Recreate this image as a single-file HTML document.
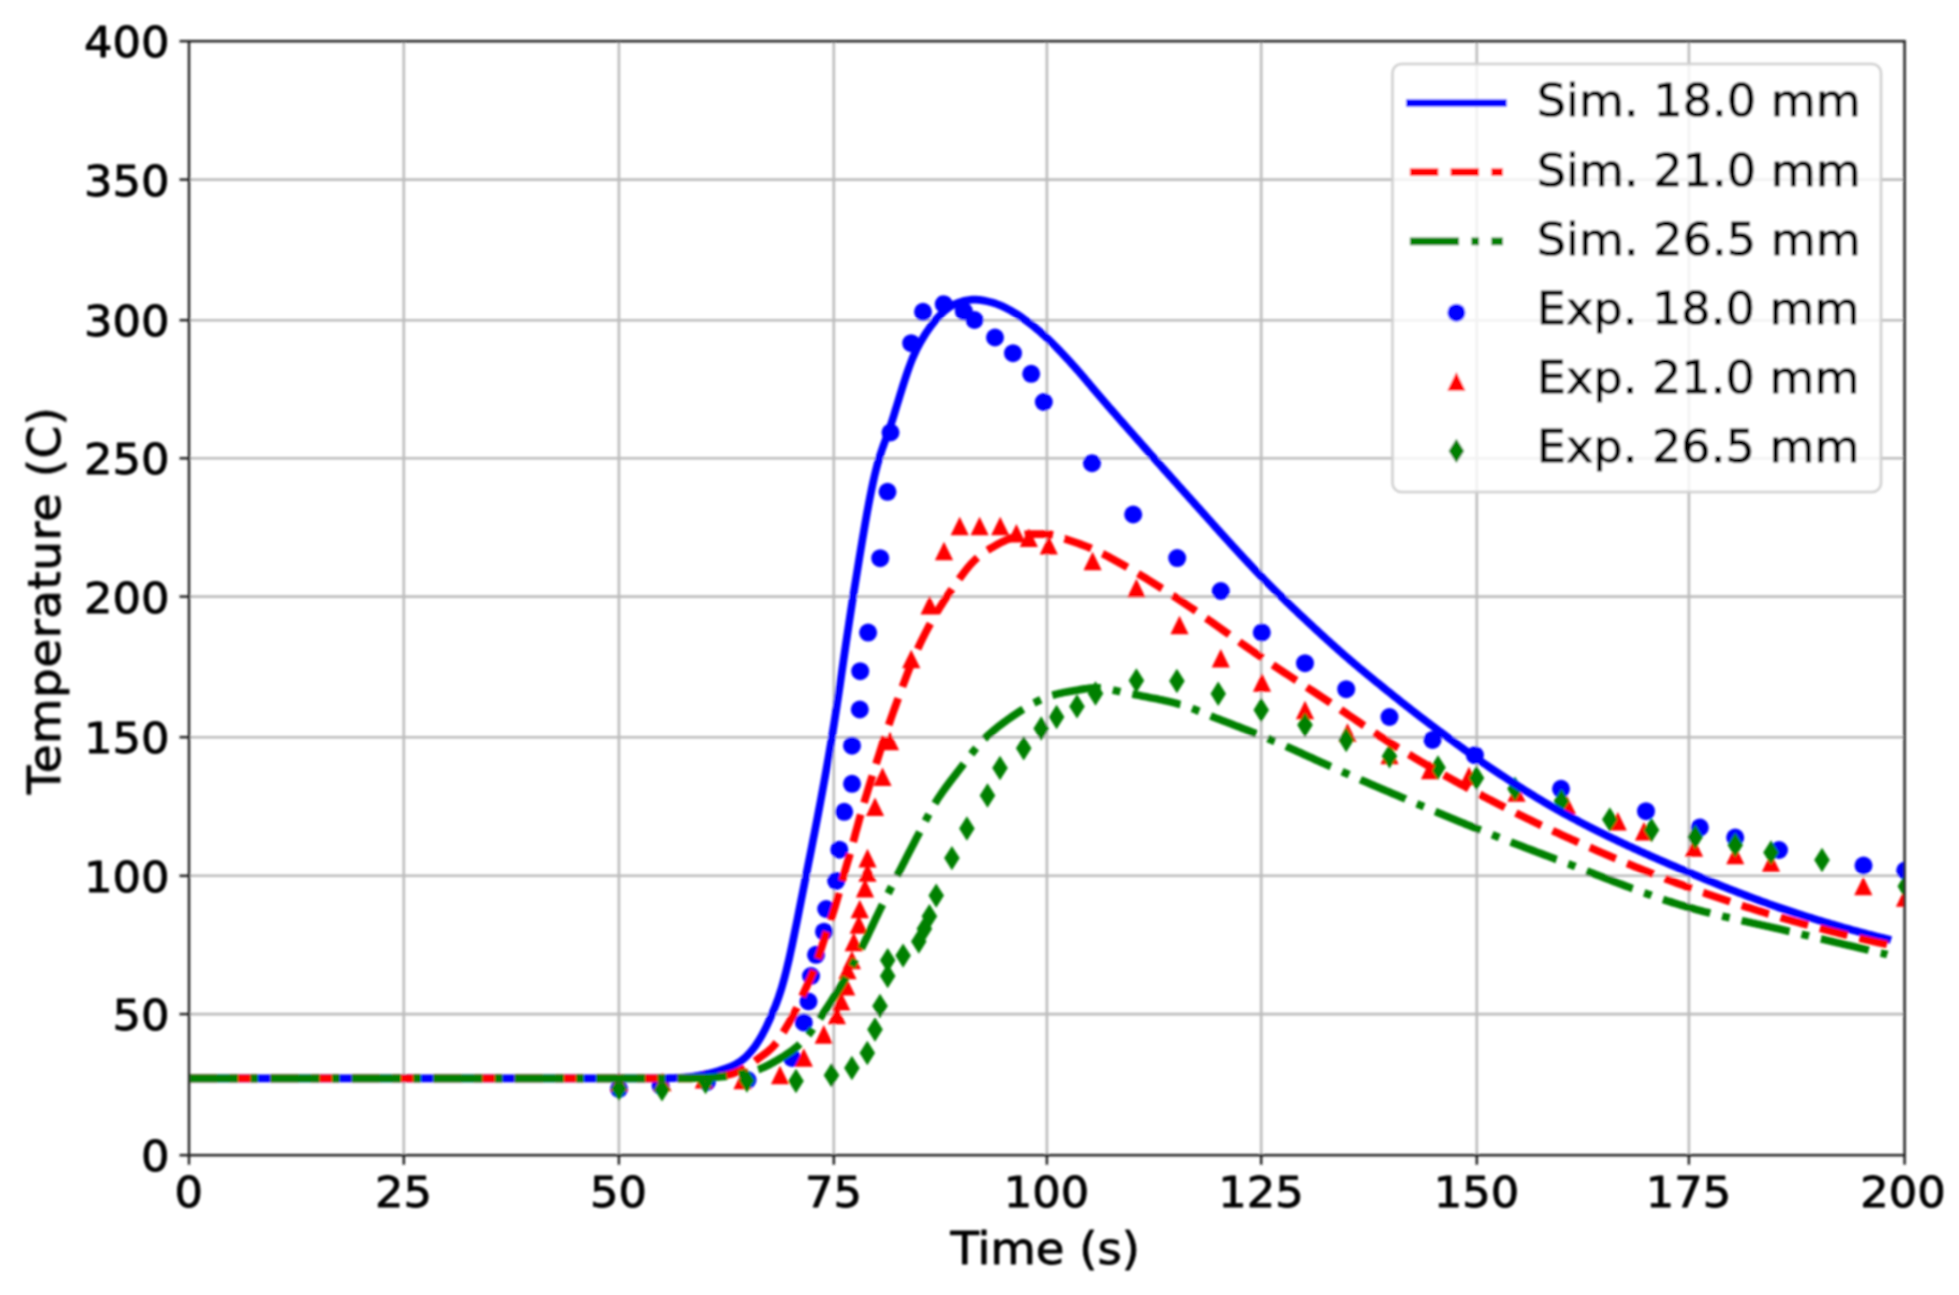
<!DOCTYPE html>
<html><head><meta charset="utf-8"><title>Temperature vs Time</title>
<style>
html,body{margin:0;padding:0;background:#fff;}
body{width:1959px;height:1295px;overflow:hidden;}
svg{display:block;}
text{font-family:"DejaVu Sans","Liberation Sans",sans-serif;fill:#000;stroke:#000;stroke-width:0.9px;stroke-linejoin:round;}
.tk{font-size:44.8px;}
.lb{font-size:46.6px;}
.yl{font-size:46.6px;letter-spacing:0.6px;}
.lg{font-size:46.2px;}
</style></head><body>
<svg width="1959" height="1295" viewBox="0 0 1959 1295">
<defs><clipPath id="ax"><rect x="189.0" y="41.2" width="1715.6" height="1114.0"/></clipPath>
<filter id="bl" x="-5%" y="-5%" width="110%" height="110%"><feGaussianBlur stdDeviation="1.0"/></filter></defs>
<rect width="1959" height="1295" fill="#fff"/>
<g filter="url(#bl)">
<g stroke="#bcbcbc" stroke-width="2.6" fill="none">
<line x1="403.8" y1="41.2" x2="403.8" y2="1155.2"/>
<line x1="618.9" y1="41.2" x2="618.9" y2="1155.2"/>
<line x1="833.8" y1="41.2" x2="833.8" y2="1155.2"/>
<line x1="1046.9" y1="41.2" x2="1046.9" y2="1155.2"/>
<line x1="1261.2" y1="41.2" x2="1261.2" y2="1155.2"/>
<line x1="1476.8" y1="41.2" x2="1476.8" y2="1155.2"/>
<line x1="1688.9" y1="41.2" x2="1688.9" y2="1155.2"/>
<line x1="189.0" y1="1014.1" x2="1904.6" y2="1014.1"/>
<line x1="189.0" y1="875.8" x2="1904.6" y2="875.8"/>
<line x1="189.0" y1="737.2" x2="1904.6" y2="737.2"/>
<line x1="189.0" y1="596.6" x2="1904.6" y2="596.6"/>
<line x1="189.0" y1="458.3" x2="1904.6" y2="458.3"/>
<line x1="189.0" y1="320.2" x2="1904.6" y2="320.2"/>
<line x1="189.0" y1="179.6" x2="1904.6" y2="179.6"/>
</g>
<g clip-path="url(#ax)">
<g fill="#0000ff">
<circle cx="619.0" cy="1088.8" r="9.0"/>
<circle cx="660.6" cy="1085.6" r="9.0"/>
<circle cx="706.9" cy="1082.0" r="9.0"/>
<circle cx="747.5" cy="1080.0" r="9.0"/>
<circle cx="792.0" cy="1058.0" r="9.0"/>
<circle cx="803.8" cy="1022.5" r="9.0"/>
<circle cx="808.5" cy="1001.5" r="9.0"/>
<circle cx="811.0" cy="976.0" r="9.0"/>
<circle cx="816.0" cy="954.8" r="9.0"/>
<circle cx="824.0" cy="931.7" r="9.0"/>
<circle cx="826.2" cy="909.0" r="9.0"/>
<circle cx="836.2" cy="881.0" r="9.0"/>
<circle cx="839.3" cy="849.7" r="9.0"/>
<circle cx="844.2" cy="811.8" r="9.0"/>
<circle cx="852.0" cy="783.8" r="9.0"/>
<circle cx="852.0" cy="745.7" r="9.0"/>
<circle cx="859.8" cy="709.5" r="9.0"/>
<circle cx="860.2" cy="671.2" r="9.0"/>
<circle cx="868.1" cy="632.6" r="9.0"/>
<circle cx="880.2" cy="558.2" r="9.0"/>
<circle cx="887.5" cy="491.8" r="9.0"/>
<circle cx="890.5" cy="432.5" r="9.0"/>
<circle cx="911.2" cy="343.2" r="9.0"/>
<circle cx="923.0" cy="311.8" r="9.0"/>
<circle cx="943.8" cy="304.2" r="9.0"/>
<circle cx="963.8" cy="311.2" r="9.0"/>
<circle cx="974.5" cy="320.0" r="9.0"/>
<circle cx="995.0" cy="337.5" r="9.0"/>
<circle cx="1013.0" cy="353.2" r="9.0"/>
<circle cx="1031.2" cy="373.8" r="9.0"/>
<circle cx="1043.8" cy="402.0" r="9.0"/>
<circle cx="1092.0" cy="463.2" r="9.0"/>
<circle cx="1133.2" cy="514.5" r="9.0"/>
<circle cx="1177.2" cy="558.1" r="9.0"/>
<circle cx="1220.8" cy="591.0" r="9.0"/>
<circle cx="1261.8" cy="632.5" r="9.0"/>
<circle cx="1305.0" cy="663.2" r="9.0"/>
<circle cx="1346.2" cy="689.2" r="9.0"/>
<circle cx="1389.5" cy="717.0" r="9.0"/>
<circle cx="1432.5" cy="740.0" r="9.0"/>
<circle cx="1474.9" cy="755.2" r="9.0"/>
<circle cx="1561.0" cy="788.8" r="9.0"/>
<circle cx="1646.0" cy="811.2" r="9.0"/>
<circle cx="1699.8" cy="827.5" r="9.0"/>
<circle cx="1735.2" cy="837.5" r="9.0"/>
<circle cx="1779.0" cy="850.0" r="9.0"/>
<circle cx="1863.5" cy="865.5" r="9.0"/>
<circle cx="1905.2" cy="870.5" r="9.0"/>
</g><g fill="#ff0000">
<path d="M619.0,1072.7 L628.1,1091.3 L609.9,1091.3Z"/>
<path d="M662.4,1072.7 L671.5,1091.3 L653.3,1091.3Z"/>
<path d="M703.8,1070.0 L712.9,1088.6 L694.7,1088.6Z"/>
<path d="M742.5,1070.7 L751.6,1089.3 L733.4,1089.3Z"/>
<path d="M780.0,1065.7 L789.1,1084.3 L770.9,1084.3Z"/>
<path d="M803.8,1048.2 L812.9,1066.8 L794.6,1066.8Z"/>
<path d="M823.8,1025.1 L832.9,1043.7 L814.6,1043.7Z"/>
<path d="M836.9,1005.7 L846.0,1024.3 L827.8,1024.3Z"/>
<path d="M841.2,992.0 L850.4,1010.5 L832.1,1010.5Z"/>
<path d="M846.2,977.0 L855.4,995.5 L837.1,995.5Z"/>
<path d="M847.5,960.7 L856.6,979.3 L838.4,979.3Z"/>
<path d="M851.9,950.7 L861.0,969.3 L842.8,969.3Z"/>
<path d="M853.8,932.6 L862.9,951.2 L844.6,951.2Z"/>
<path d="M858.8,915.1 L867.9,933.7 L849.6,933.7Z"/>
<path d="M859.8,899.7 L868.9,918.3 L850.6,918.3Z"/>
<path d="M865.0,878.8 L874.1,897.4 L855.9,897.4Z"/>
<path d="M867.5,863.2 L876.6,881.8 L858.4,881.8Z"/>
<path d="M867.5,848.8 L876.6,867.4 L858.4,867.4Z"/>
<path d="M875.0,797.5 L884.1,816.0 L865.9,816.0Z"/>
<path d="M882.5,767.5 L891.6,786.0 L873.4,786.0Z"/>
<path d="M890.0,731.7 L899.1,750.3 L880.9,750.3Z"/>
<path d="M911.2,649.7 L920.4,668.3 L902.1,668.3Z"/>
<path d="M929.6,595.8 L938.7,614.4 L920.5,614.4Z"/>
<path d="M944.0,541.7 L953.1,560.3 L934.9,560.3Z"/>
<path d="M959.7,516.7 L968.8,535.3 L950.6,535.3Z"/>
<path d="M979.6,516.7 L988.7,535.3 L970.5,535.3Z"/>
<path d="M1000.2,516.7 L1009.3,535.3 L991.1,535.3Z"/>
<path d="M1016.4,524.0 L1025.5,542.6 L1007.3,542.6Z"/>
<path d="M1028.8,528.4 L1037.9,547.0 L1019.7,547.0Z"/>
<path d="M1048.8,535.9 L1057.9,554.5 L1039.7,554.5Z"/>
<path d="M1092.6,551.7 L1101.7,570.3 L1083.5,570.3Z"/>
<path d="M1136.4,578.7 L1145.5,597.3 L1127.3,597.3Z"/>
<path d="M1179.5,615.7 L1188.6,634.3 L1170.4,634.3Z"/>
<path d="M1220.8,649.0 L1229.8,667.5 L1211.7,667.5Z"/>
<path d="M1262.0,673.2 L1271.1,691.8 L1252.9,691.8Z"/>
<path d="M1305.0,700.7 L1314.1,719.3 L1295.9,719.3Z"/>
<path d="M1347.5,723.2 L1356.6,741.8 L1338.4,741.8Z"/>
<path d="M1389.5,745.7 L1398.6,764.3 L1380.4,764.3Z"/>
<path d="M1430.0,760.7 L1439.1,779.3 L1420.9,779.3Z"/>
<path d="M1469.0,766.7 L1478.1,785.3 L1459.9,785.3Z"/>
<path d="M1516.5,783.2 L1525.6,801.8 L1507.4,801.8Z"/>
<path d="M1567.0,795.7 L1576.1,814.3 L1557.9,814.3Z"/>
<path d="M1617.8,812.0 L1626.8,830.5 L1608.7,830.5Z"/>
<path d="M1644.0,822.0 L1653.1,840.5 L1634.9,840.5Z"/>
<path d="M1694.0,838.2 L1703.1,856.8 L1684.9,856.8Z"/>
<path d="M1735.2,845.7 L1744.3,864.3 L1726.2,864.3Z"/>
<path d="M1771.0,853.2 L1780.1,871.8 L1761.9,871.8Z"/>
<path d="M1863.3,876.7 L1872.4,895.3 L1854.2,895.3Z"/>
<path d="M1905.0,888.2 L1914.1,906.8 L1895.9,906.8Z"/>
</g><g fill="#008000">
<path d="M619.0,1076.5 L626.8,1088.8 L619.0,1101.0 L611.2,1088.8Z"/>
<path d="M662.0,1077.2 L669.8,1089.4 L662.0,1101.6 L654.2,1089.4Z"/>
<path d="M705.6,1069.8 L713.4,1082.0 L705.6,1094.2 L697.8,1082.0Z"/>
<path d="M746.9,1068.4 L754.7,1080.6 L746.9,1092.8 L739.1,1080.6Z"/>
<path d="M796.0,1068.8 L803.8,1081.0 L796.0,1093.2 L788.2,1081.0Z"/>
<path d="M831.5,1063.1 L839.3,1075.3 L831.5,1087.5 L823.7,1075.3Z"/>
<path d="M851.9,1055.8 L859.7,1068.0 L851.9,1080.2 L844.1,1068.0Z"/>
<path d="M867.3,1040.8 L875.1,1053.0 L867.3,1065.2 L859.5,1053.0Z"/>
<path d="M875.0,1017.3 L882.8,1029.5 L875.0,1041.7 L867.2,1029.5Z"/>
<path d="M880.0,993.8 L887.8,1006.0 L880.0,1018.2 L872.2,1006.0Z"/>
<path d="M887.7,963.8 L895.5,976.0 L887.7,988.2 L879.9,976.0Z"/>
<path d="M887.7,948.0 L895.5,960.2 L887.7,972.4 L879.9,960.2Z"/>
<path d="M903.1,943.4 L910.9,955.6 L903.1,967.8 L895.3,955.6Z"/>
<path d="M918.8,929.3 L926.5,941.5 L918.8,953.7 L911.0,941.5Z"/>
<path d="M924.4,916.5 L932.2,928.8 L924.4,941.0 L916.6,928.8Z"/>
<path d="M929.4,904.0 L937.2,916.2 L929.4,928.5 L921.6,916.2Z"/>
<path d="M936.2,883.4 L944.0,895.6 L936.2,907.8 L928.5,895.6Z"/>
<path d="M951.9,845.9 L959.7,858.1 L951.9,870.3 L944.1,858.1Z"/>
<path d="M966.9,816.3 L974.7,828.5 L966.9,840.7 L959.1,828.5Z"/>
<path d="M987.5,783.3 L995.3,795.5 L987.5,807.7 L979.7,795.5Z"/>
<path d="M1000.0,755.8 L1007.8,768.0 L1000.0,780.2 L992.2,768.0Z"/>
<path d="M1023.7,736.0 L1031.5,748.2 L1023.7,760.4 L1015.9,748.2Z"/>
<path d="M1041.2,716.3 L1049.0,728.5 L1041.2,740.7 L1033.4,728.5Z"/>
<path d="M1056.6,704.8 L1064.4,717.0 L1056.6,729.2 L1048.8,717.0Z"/>
<path d="M1077.0,694.2 L1084.8,706.4 L1077.0,718.6 L1069.2,706.4Z"/>
<path d="M1095.5,681.3 L1103.3,693.5 L1095.5,705.7 L1087.7,693.5Z"/>
<path d="M1136.4,668.3 L1144.2,680.5 L1136.4,692.7 L1128.6,680.5Z"/>
<path d="M1176.9,668.8 L1184.7,681.0 L1176.9,693.2 L1169.1,681.0Z"/>
<path d="M1218.2,681.5 L1226.0,693.8 L1218.2,706.0 L1210.5,693.8Z"/>
<path d="M1261.2,697.8 L1269.0,710.0 L1261.2,722.2 L1253.5,710.0Z"/>
<path d="M1305.0,712.8 L1312.8,725.0 L1305.0,737.2 L1297.2,725.0Z"/>
<path d="M1346.2,727.8 L1354.0,740.0 L1346.2,752.2 L1338.5,740.0Z"/>
<path d="M1389.5,744.0 L1397.3,756.2 L1389.5,768.5 L1381.7,756.2Z"/>
<path d="M1438.0,755.3 L1445.8,767.5 L1438.0,779.7 L1430.2,767.5Z"/>
<path d="M1476.5,765.8 L1484.3,778.0 L1476.5,790.2 L1468.7,778.0Z"/>
<path d="M1515.0,776.5 L1522.8,788.8 L1515.0,801.0 L1507.2,788.8Z"/>
<path d="M1561.4,789.0 L1569.2,801.2 L1561.4,813.5 L1553.6,801.2Z"/>
<path d="M1609.8,807.3 L1617.5,819.5 L1609.8,831.7 L1602.0,819.5Z"/>
<path d="M1651.5,817.8 L1659.3,830.0 L1651.5,842.2 L1643.7,830.0Z"/>
<path d="M1695.2,824.8 L1703.0,837.0 L1695.2,849.2 L1687.5,837.0Z"/>
<path d="M1735.2,832.8 L1743.0,845.0 L1735.2,857.2 L1727.5,845.0Z"/>
<path d="M1771.0,840.3 L1778.8,852.5 L1771.0,864.7 L1763.2,852.5Z"/>
<path d="M1822.0,847.8 L1829.8,860.0 L1822.0,872.2 L1814.2,860.0Z"/>
<path d="M1905.2,874.0 L1913.0,886.2 L1905.2,898.5 L1897.5,886.2Z"/>
</g>
<g fill="none" stroke-width="7.68" stroke-linejoin="round">
<path d="M189.0,1078.4 L190.5,1078.4 L192.0,1078.4 L193.5,1078.4 L195.0,1078.4 L196.5,1078.4 L198.0,1078.4 L199.5,1078.4 L201.0,1078.4 L202.5,1078.4 L204.0,1078.4 L205.5,1078.4 L207.0,1078.4 L208.5,1078.4 L210.0,1078.4 L211.5,1078.4 L213.0,1078.4 L214.5,1078.4 L216.0,1078.4 L217.5,1078.4 L219.0,1078.4 L220.5,1078.4 L222.0,1078.4 L223.5,1078.4 L225.0,1078.4 L226.5,1078.4 L228.0,1078.4 L229.5,1078.4 L231.0,1078.4 L232.5,1078.4 L234.0,1078.4 L235.5,1078.4 L237.0,1078.4 L238.5,1078.4 L240.0,1078.4 L241.5,1078.4 L243.0,1078.4 L244.5,1078.4 L246.0,1078.4 L247.5,1078.4 L249.0,1078.4 L250.5,1078.4 L252.0,1078.4 L253.5,1078.4 L255.0,1078.4 L256.5,1078.4 L258.0,1078.4 L259.5,1078.4 L261.0,1078.4 L262.5,1078.4 L264.0,1078.4 L265.5,1078.4 L267.0,1078.4 L268.5,1078.4 L270.0,1078.4 L271.5,1078.4 L273.0,1078.4 L274.5,1078.4 L276.0,1078.4 L277.5,1078.4 L279.0,1078.4 L280.5,1078.4 L282.0,1078.4 L283.5,1078.4 L285.0,1078.4 L286.5,1078.4 L288.0,1078.4 L289.5,1078.4 L291.0,1078.4 L292.5,1078.4 L294.0,1078.4 L295.5,1078.4 L297.0,1078.4 L298.5,1078.4 L300.0,1078.4 L301.5,1078.4 L303.0,1078.4 L304.5,1078.4 L306.0,1078.4 L307.5,1078.4 L309.0,1078.4 L310.5,1078.4 L312.0,1078.4 L313.5,1078.4 L315.0,1078.4 L316.5,1078.4 L318.0,1078.4 L319.5,1078.4 L321.0,1078.4 L322.5,1078.4 L324.0,1078.4 L325.5,1078.4 L327.0,1078.4 L328.5,1078.4 L330.0,1078.4 L331.5,1078.4 L333.0,1078.4 L334.5,1078.4 L336.0,1078.4 L337.5,1078.4 L339.0,1078.4 L340.5,1078.4 L342.0,1078.4 L343.5,1078.4 L345.0,1078.4 L346.5,1078.4 L348.0,1078.4 L349.5,1078.4 L351.0,1078.4 L352.5,1078.4 L354.0,1078.4 L355.5,1078.4 L357.0,1078.4 L358.5,1078.4 L360.0,1078.4 L361.5,1078.4 L363.0,1078.4 L364.5,1078.4 L366.0,1078.4 L367.5,1078.4 L369.0,1078.4 L370.5,1078.4 L372.0,1078.4 L373.5,1078.4 L375.0,1078.4 L376.5,1078.4 L378.0,1078.4 L379.5,1078.4 L381.0,1078.4 L382.5,1078.4 L384.0,1078.4 L385.5,1078.4 L387.0,1078.4 L388.5,1078.4 L390.0,1078.4 L391.5,1078.4 L393.0,1078.4 L394.5,1078.4 L396.0,1078.4 L397.5,1078.4 L399.0,1078.4 L400.5,1078.4 L402.0,1078.4 L403.5,1078.4 L405.0,1078.4 L406.5,1078.4 L408.0,1078.4 L409.5,1078.4 L411.0,1078.4 L412.5,1078.4 L414.0,1078.4 L415.5,1078.4 L417.0,1078.4 L418.5,1078.4 L420.0,1078.4 L421.5,1078.4 L423.0,1078.4 L424.5,1078.4 L426.0,1078.4 L427.5,1078.4 L429.0,1078.4 L430.5,1078.4 L432.0,1078.4 L433.5,1078.4 L435.0,1078.4 L436.5,1078.4 L438.0,1078.4 L439.5,1078.4 L441.0,1078.4 L442.5,1078.4 L444.0,1078.4 L445.5,1078.4 L447.0,1078.4 L448.5,1078.4 L450.0,1078.4 L451.5,1078.4 L453.0,1078.4 L454.5,1078.4 L456.0,1078.4 L457.5,1078.4 L459.0,1078.4 L460.5,1078.4 L462.0,1078.4 L463.5,1078.4 L465.0,1078.4 L466.5,1078.4 L468.0,1078.4 L469.5,1078.4 L471.0,1078.4 L472.5,1078.4 L474.0,1078.4 L475.5,1078.4 L477.0,1078.4 L478.5,1078.4 L480.0,1078.4 L481.5,1078.4 L483.0,1078.4 L484.5,1078.4 L486.0,1078.4 L487.5,1078.4 L489.0,1078.4 L490.5,1078.4 L492.0,1078.4 L493.5,1078.4 L495.0,1078.4 L496.5,1078.4 L498.0,1078.4 L499.5,1078.4 L501.0,1078.4 L502.5,1078.4 L504.0,1078.4 L505.5,1078.4 L507.0,1078.4 L508.5,1078.4 L510.0,1078.4 L511.5,1078.4 L513.0,1078.4 L514.5,1078.4 L516.0,1078.4 L517.5,1078.4 L519.0,1078.4 L520.5,1078.4 L522.0,1078.4 L523.5,1078.4 L525.0,1078.4 L526.5,1078.4 L528.0,1078.4 L529.5,1078.4 L531.0,1078.4 L532.5,1078.4 L534.0,1078.4 L535.5,1078.4 L537.0,1078.4 L538.5,1078.4 L540.0,1078.4 L541.5,1078.4 L543.0,1078.4 L544.5,1078.4 L546.0,1078.4 L547.5,1078.4 L549.0,1078.4 L550.5,1078.4 L552.0,1078.4 L553.5,1078.4 L555.0,1078.4 L556.5,1078.4 L558.0,1078.4 L559.5,1078.4 L561.0,1078.4 L562.5,1078.4 L564.0,1078.4 L565.5,1078.4 L567.0,1078.4 L568.5,1078.4 L570.0,1078.4 L571.5,1078.4 L573.0,1078.4 L574.5,1078.4 L576.0,1078.4 L577.5,1078.4 L579.0,1078.4 L580.5,1078.4 L582.0,1078.4 L583.5,1078.4 L585.0,1078.4 L586.5,1078.4 L588.0,1078.4 L589.5,1078.4 L591.0,1078.4 L592.5,1078.4 L594.0,1078.4 L595.5,1078.4 L597.0,1078.4 L598.5,1078.4 L600.0,1078.4 L601.5,1078.4 L603.0,1078.4 L604.5,1078.4 L606.0,1078.4 L607.5,1078.4 L609.0,1078.4 L610.5,1078.4 L612.0,1078.4 L613.5,1078.4 L615.0,1078.4 L616.5,1078.4 L618.0,1078.4 L619.5,1078.4 L621.0,1078.4 L622.5,1078.4 L624.0,1078.4 L625.5,1078.4 L627.0,1078.4 L628.5,1078.4 L630.0,1078.4 L631.5,1078.4 L633.0,1078.4 L634.5,1078.4 L636.0,1078.4 L637.5,1078.4 L639.0,1078.4 L640.5,1078.4 L642.0,1078.4 L643.5,1078.4 L645.0,1078.4 L646.5,1078.4 L648.0,1078.4 L649.5,1078.4 L651.0,1078.4 L652.5,1078.4 L654.0,1078.4 L655.5,1078.4 L657.0,1078.4 L658.5,1078.4 L660.0,1078.4 L661.5,1078.4 L663.0,1078.4 L664.5,1078.3 L666.0,1078.3 L667.5,1078.3 L669.0,1078.2 L670.5,1078.2 L672.0,1078.1 L673.5,1078.1 L675.0,1078.0 L676.5,1077.9 L678.0,1077.9 L679.5,1077.8 L680.0,1077.8 L681.0,1077.7 L682.5,1077.6 L684.0,1077.5 L685.5,1077.3 L687.0,1077.2 L688.5,1077.0 L690.0,1076.9 L691.5,1076.7 L693.0,1076.5 L694.5,1076.3 L696.0,1076.0 L697.5,1075.8 L699.0,1075.6 L700.5,1075.3 L702.0,1075.0 L702.5,1074.9 L703.5,1074.7 L705.0,1074.4 L706.5,1074.1 L708.0,1073.8 L709.5,1073.4 L711.0,1073.0 L712.5,1072.6 L714.0,1072.2 L715.0,1072.0 L715.5,1071.8 L717.0,1071.4 L718.5,1071.0 L720.0,1070.5 L721.5,1070.0 L723.0,1069.5 L724.5,1069.0 L726.0,1068.5 L727.5,1067.9 L729.0,1067.3 L730.5,1066.7 L732.0,1066.1 L733.5,1065.4 L735.0,1064.6 L736.5,1063.8 L738.0,1062.9 L739.5,1062.0 L740.0,1061.7 L741.0,1061.0 L742.5,1059.8 L744.0,1058.6 L745.5,1057.2 L747.0,1055.8 L748.5,1054.2 L750.0,1052.6 L751.5,1050.8 L752.5,1049.6 L753.0,1049.0 L754.5,1047.0 L756.0,1044.9 L757.5,1042.6 L759.0,1040.2 L760.5,1037.7 L762.0,1035.1 L763.5,1032.3 L765.0,1029.4 L766.5,1026.4 L768.0,1023.2 L769.5,1019.9 L771.0,1016.4 L771.2,1015.9 L772.5,1012.9 L774.0,1009.3 L775.5,1005.6 L777.0,1001.6 L778.5,997.5 L780.0,993.0 L780.8,990.5 L781.5,988.3 L783.0,983.2 L784.5,977.7 L786.0,971.9 L787.5,965.7 L789.0,959.3 L790.5,952.5 L792.0,945.6 L793.5,938.4 L795.0,931.1 L796.5,923.7 L798.0,916.2 L799.5,908.6 L801.0,901.0 L802.5,893.4 L804.0,885.9 L805.5,878.3 L805.8,876.8 L807.0,870.8 L808.5,863.3 L810.0,855.7 L811.5,848.2 L813.0,840.6 L814.5,832.9 L816.0,825.2 L817.5,817.4 L819.0,809.5 L820.5,801.6 L822.0,793.5 L823.5,785.4 L825.0,777.1 L826.5,768.7 L828.0,760.2 L829.5,751.5 L831.0,742.6 L832.0,736.5 L832.5,733.5 L834.0,724.1 L835.5,714.5 L837.0,704.7 L838.5,694.7 L840.0,684.6 L841.5,674.3 L843.0,664.0 L844.5,653.6 L846.0,643.4 L847.5,633.2 L849.0,623.2 L850.5,613.4 L852.0,603.7 L853.5,594.2 L855.0,584.8 L856.5,575.6 L858.0,566.4 L859.5,557.2 L861.0,548.1 L862.5,539.2 L864.0,530.3 L865.5,521.7 L867.0,513.2 L868.5,505.1 L870.0,497.2 L871.5,489.7 L873.0,482.6 L874.5,476.0 L876.0,469.8 L877.5,464.1 L878.5,460.6 L879.0,458.9 L880.5,454.1 L882.0,449.6 L883.5,445.4 L885.0,441.3 L886.5,437.3 L888.0,433.1 L888.8,430.9 L889.5,428.8 L891.0,424.3 L892.5,419.6 L894.0,414.8 L895.5,409.9 L897.0,405.0 L898.5,400.1 L900.0,395.2 L901.5,390.3 L903.0,385.5 L904.5,380.8 L906.0,376.2 L907.5,371.8 L909.0,367.5 L910.5,363.5 L912.0,359.7 L912.5,358.4 L913.5,356.1 L915.0,352.8 L916.5,349.6 L918.0,346.7 L919.5,343.9 L921.0,341.2 L922.5,338.7 L924.0,336.2 L925.5,333.9 L926.2,332.7 L927.0,331.6 L928.5,329.4 L930.0,327.3 L931.5,325.2 L933.0,323.3 L934.5,321.4 L936.0,319.6 L937.5,317.9 L939.0,316.3 L940.0,315.3 L940.5,314.8 L942.0,313.3 L943.5,311.9 L945.0,310.6 L946.5,309.4 L948.0,308.2 L949.5,307.1 L951.0,306.2 L952.5,305.3 L954.0,304.5 L955.0,304.0 L955.5,303.8 L957.0,303.2 L958.5,302.6 L960.0,302.1 L961.5,301.7 L963.0,301.2 L964.5,300.8 L966.0,300.5 L967.5,300.2 L969.0,300.0 L970.5,299.8 L972.0,299.7 L973.5,299.6 L973.8,299.6 L975.0,299.6 L976.5,299.7 L978.0,299.8 L979.5,299.9 L981.0,300.1 L982.5,300.4 L984.0,300.6 L985.5,300.9 L987.0,301.3 L988.5,301.6 L990.0,302.0 L991.5,302.3 L992.5,302.6 L993.0,302.8 L994.5,303.2 L996.0,303.7 L997.5,304.3 L999.0,304.8 L1000.5,305.5 L1002.0,306.1 L1003.5,306.8 L1005.0,307.6 L1006.5,308.3 L1008.0,309.1 L1009.5,309.9 L1011.0,310.7 L1011.2,310.9 L1012.5,311.6 L1014.0,312.5 L1015.5,313.4 L1017.0,314.3 L1018.5,315.3 L1020.0,316.3 L1021.5,317.3 L1023.0,318.4 L1024.5,319.5 L1026.0,320.6 L1027.5,321.7 L1029.0,322.8 L1030.0,323.6 L1030.5,324.0 L1032.0,325.1 L1033.5,326.3 L1035.0,327.5 L1036.5,328.8 L1038.0,330.1 L1039.5,331.3 L1041.0,332.7 L1042.5,334.0 L1044.0,335.3 L1045.5,336.7 L1047.0,338.1 L1047.5,338.6 L1048.5,339.5 L1050.0,341.0 L1051.5,342.4 L1053.0,343.9 L1054.5,345.4 L1056.0,346.9 L1057.5,348.5 L1059.0,350.0 L1060.5,351.6 L1062.0,353.2 L1063.3,354.5 L1063.5,354.8 L1065.0,356.4 L1066.5,358.0 L1068.0,359.6 L1069.5,361.2 L1071.0,362.9 L1072.5,364.6 L1074.0,366.2 L1075.5,367.9 L1077.0,369.6 L1078.5,371.3 L1080.0,373.0 L1081.5,374.8 L1083.0,376.5 L1084.5,378.3 L1086.0,380.1 L1087.5,381.9 L1089.0,383.6 L1090.5,385.4 L1092.0,387.2 L1093.5,389.0 L1095.0,390.8 L1096.5,392.5 L1096.7,392.8 L1098.0,394.3 L1099.5,396.0 L1101.0,397.8 L1102.5,399.5 L1104.0,401.3 L1105.5,403.0 L1107.0,404.7 L1108.5,406.5 L1110.0,408.2 L1111.5,409.9 L1113.0,411.6 L1114.5,413.3 L1116.0,415.0 L1117.5,416.8 L1119.0,418.5 L1120.5,420.2 L1122.0,421.9 L1123.5,423.6 L1125.0,425.3 L1126.5,427.0 L1128.0,428.7 L1129.5,430.4 L1130.0,431.0 L1131.0,432.1 L1132.5,433.8 L1134.0,435.5 L1135.5,437.2 L1137.0,438.9 L1138.5,440.6 L1140.0,442.3 L1141.5,444.0 L1143.0,445.7 L1144.5,447.4 L1146.0,449.1 L1147.5,450.8 L1149.0,452.5 L1150.5,454.2 L1152.0,455.9 L1153.5,457.6 L1155.0,459.3 L1156.5,461.0 L1158.0,462.6 L1159.5,464.3 L1161.0,466.0 L1162.5,467.7 L1163.3,468.6 L1164.0,469.4 L1165.5,471.1 L1167.0,472.7 L1168.5,474.4 L1170.0,476.1 L1171.5,477.8 L1173.0,479.5 L1174.5,481.1 L1176.0,482.8 L1177.5,484.5 L1179.0,486.2 L1180.5,487.9 L1182.0,489.5 L1183.5,491.2 L1185.0,492.9 L1186.5,494.5 L1188.0,496.2 L1189.5,497.9 L1191.0,499.6 L1192.5,501.2 L1194.0,502.9 L1195.5,504.6 L1197.0,506.3 L1198.5,507.9 L1200.0,509.6 L1201.5,511.3 L1203.0,513.0 L1204.5,514.6 L1206.0,516.3 L1207.5,518.0 L1209.0,519.7 L1210.5,521.3 L1212.0,523.0 L1213.5,524.7 L1215.0,526.4 L1216.5,528.1 L1218.0,529.7 L1219.5,531.4 L1221.0,533.1 L1222.5,534.7 L1224.0,536.4 L1225.5,538.0 L1227.0,539.7 L1228.5,541.3 L1230.0,543.0 L1231.5,544.6 L1233.0,546.3 L1234.5,547.9 L1236.0,549.5 L1237.5,551.2 L1239.0,552.8 L1240.5,554.4 L1242.0,556.1 L1243.5,557.7 L1245.0,559.3 L1246.5,560.9 L1248.0,562.5 L1249.5,564.1 L1251.0,565.7 L1252.5,567.3 L1254.0,568.9 L1255.5,570.5 L1257.0,572.1 L1258.5,573.7 L1260.0,575.2 L1261.5,576.8 L1261.7,577.0 L1263.0,578.3 L1264.5,579.9 L1266.0,581.4 L1267.5,582.9 L1269.0,584.4 L1270.5,585.9 L1272.0,587.4 L1273.5,588.9 L1275.0,590.4 L1276.5,591.9 L1278.0,593.4 L1279.5,594.9 L1281.0,596.3 L1282.5,597.8 L1283.3,598.6 L1284.0,599.3 L1285.5,600.7 L1287.0,602.2 L1288.5,603.6 L1290.0,605.1 L1291.5,606.5 L1293.0,608.0 L1294.5,609.4 L1296.0,610.8 L1297.5,612.2 L1299.0,613.7 L1300.5,615.1 L1302.0,616.5 L1303.5,617.9 L1305.0,619.3 L1306.5,620.7 L1308.0,622.1 L1309.5,623.5 L1311.0,624.9 L1312.5,626.3 L1314.0,627.7 L1315.5,629.1 L1316.7,630.2 L1317.0,630.5 L1318.5,631.8 L1320.0,633.2 L1321.5,634.6 L1323.0,636.0 L1324.5,637.3 L1326.0,638.7 L1327.5,640.1 L1329.0,641.4 L1330.5,642.8 L1332.0,644.1 L1333.5,645.5 L1335.0,646.8 L1336.5,648.2 L1338.0,649.5 L1339.5,650.8 L1341.0,652.1 L1342.5,653.5 L1344.0,654.8 L1345.5,656.1 L1347.0,657.4 L1348.5,658.7 L1350.0,660.0 L1351.5,661.3 L1353.0,662.5 L1354.5,663.8 L1356.0,665.1 L1357.5,666.3 L1359.0,667.6 L1360.5,668.9 L1362.0,670.1 L1363.5,671.3 L1365.0,672.6 L1366.5,673.8 L1368.0,675.1 L1369.5,676.3 L1371.0,677.5 L1372.5,678.7 L1374.0,680.0 L1375.5,681.2 L1377.0,682.4 L1378.5,683.6 L1380.0,684.8 L1381.5,686.0 L1383.0,687.3 L1383.3,687.5 L1384.5,688.5 L1386.0,689.7 L1387.5,690.9 L1389.0,692.1 L1390.5,693.3 L1392.0,694.5 L1393.5,695.7 L1395.0,696.9 L1396.5,698.1 L1398.0,699.3 L1399.5,700.5 L1401.0,701.7 L1402.5,702.9 L1404.0,704.1 L1405.5,705.3 L1407.0,706.4 L1408.5,707.6 L1410.0,708.8 L1411.5,710.0 L1413.0,711.1 L1414.5,712.3 L1416.0,713.4 L1416.7,714.0 L1417.5,714.6 L1419.0,715.8 L1420.5,716.9 L1422.0,718.1 L1423.5,719.2 L1425.0,720.3 L1426.5,721.5 L1428.0,722.6 L1429.5,723.7 L1431.0,724.9 L1432.5,726.0 L1434.0,727.1 L1435.5,728.3 L1437.0,729.4 L1438.5,730.5 L1440.0,731.6 L1441.5,732.7 L1443.0,733.8 L1444.5,734.9 L1446.0,736.0 L1447.5,737.2 L1449.0,738.3 L1450.0,739.0 L1450.5,739.4 L1452.0,740.5 L1453.5,741.6 L1455.0,742.7 L1456.5,743.8 L1458.0,744.9 L1459.5,746.0 L1461.0,747.1 L1462.5,748.2 L1464.0,749.3 L1465.5,750.4 L1467.0,751.5 L1468.5,752.6 L1470.0,753.7 L1471.5,754.7 L1473.0,755.8 L1474.5,756.9 L1476.0,757.9 L1477.5,759.0 L1479.0,760.0 L1480.5,761.1 L1482.0,762.1 L1483.3,763.0 L1483.5,763.1 L1485.0,764.1 L1486.5,765.1 L1488.0,766.2 L1489.5,767.2 L1491.0,768.2 L1492.5,769.2 L1494.0,770.2 L1495.5,771.2 L1497.0,772.2 L1498.5,773.2 L1500.0,774.2 L1501.5,775.2 L1503.0,776.1 L1504.5,777.1 L1506.0,778.1 L1507.5,779.1 L1509.0,780.1 L1510.5,781.1 L1512.0,782.0 L1513.5,783.0 L1515.0,784.0 L1516.5,784.9 L1518.0,785.9 L1519.5,786.9 L1521.0,787.8 L1522.5,788.8 L1524.0,789.7 L1525.5,790.7 L1527.0,791.6 L1528.5,792.5 L1530.0,793.5 L1531.5,794.4 L1533.0,795.3 L1534.5,796.3 L1536.0,797.2 L1537.5,798.1 L1539.0,799.0 L1540.5,799.9 L1542.0,800.8 L1543.5,801.7 L1545.0,802.6 L1546.5,803.5 L1548.0,804.4 L1549.5,805.3 L1551.0,806.1 L1552.5,807.0 L1554.0,807.9 L1555.5,808.7 L1557.0,809.6 L1558.5,810.4 L1560.0,811.3 L1561.5,812.1 L1563.0,813.0 L1564.5,813.8 L1566.0,814.6 L1567.5,815.4 L1569.0,816.2 L1570.5,817.0 L1572.0,817.8 L1573.5,818.6 L1575.0,819.4 L1576.5,820.2 L1578.0,821.0 L1579.5,821.8 L1581.0,822.6 L1582.5,823.4 L1584.0,824.2 L1585.5,824.9 L1587.0,825.7 L1588.5,826.5 L1590.0,827.2 L1591.5,828.0 L1593.0,828.8 L1594.5,829.5 L1596.0,830.3 L1597.5,831.0 L1599.0,831.8 L1600.5,832.5 L1602.0,833.2 L1603.5,834.0 L1605.0,834.7 L1606.5,835.5 L1608.0,836.2 L1609.5,836.9 L1611.0,837.6 L1612.5,838.4 L1614.0,839.1 L1615.5,839.8 L1617.0,840.5 L1618.5,841.2 L1620.0,841.9 L1621.5,842.6 L1623.0,843.4 L1624.5,844.1 L1626.0,844.8 L1627.5,845.5 L1629.0,846.2 L1630.5,846.8 L1632.0,847.5 L1633.5,848.2 L1635.0,848.9 L1636.5,849.6 L1638.0,850.3 L1639.5,851.0 L1641.0,851.7 L1642.5,852.3 L1644.0,853.0 L1645.5,853.7 L1647.0,854.3 L1648.5,855.0 L1650.0,855.7 L1651.5,856.4 L1653.0,857.0 L1654.5,857.7 L1656.0,858.3 L1657.5,859.0 L1659.0,859.7 L1660.5,860.3 L1662.0,861.0 L1663.5,861.6 L1665.0,862.3 L1666.5,862.9 L1668.0,863.6 L1669.5,864.2 L1671.0,864.9 L1672.5,865.5 L1674.0,866.1 L1675.5,866.8 L1677.0,867.4 L1678.5,868.1 L1680.0,868.7 L1681.5,869.3 L1683.0,870.0 L1684.5,870.6 L1686.0,871.2 L1687.5,871.9 L1689.0,872.5 L1690.5,873.1 L1692.0,873.8 L1693.5,874.4 L1695.0,875.0 L1696.5,875.6 L1698.0,876.3 L1699.5,876.9 L1701.0,877.5 L1702.5,878.1 L1704.0,878.7 L1705.5,879.4 L1707.0,880.0 L1708.5,880.6 L1710.0,881.2 L1711.5,881.8 L1713.0,882.4 L1714.5,883.0 L1716.0,883.6 L1717.5,884.3 L1719.0,884.9 L1720.5,885.5 L1722.0,886.1 L1723.5,886.7 L1725.0,887.3 L1726.5,887.9 L1728.0,888.5 L1729.5,889.1 L1731.0,889.6 L1732.5,890.2 L1734.0,890.8 L1735.5,891.4 L1737.0,892.0 L1738.5,892.6 L1740.0,893.2 L1741.5,893.7 L1743.0,894.3 L1744.5,894.9 L1746.0,895.5 L1747.5,896.0 L1749.0,896.6 L1750.5,897.2 L1752.0,897.7 L1753.5,898.3 L1755.0,898.9 L1756.5,899.4 L1758.0,900.0 L1759.5,900.5 L1761.0,901.1 L1762.5,901.6 L1764.0,902.2 L1765.5,902.7 L1767.0,903.2 L1768.5,903.8 L1770.0,904.3 L1771.5,904.8 L1773.0,905.4 L1774.5,905.9 L1776.0,906.4 L1777.5,907.0 L1779.0,907.5 L1780.5,908.0 L1782.0,908.5 L1783.5,909.0 L1785.0,909.5 L1786.5,910.0 L1788.0,910.5 L1789.5,911.0 L1791.0,911.5 L1792.5,912.0 L1794.0,912.5 L1795.5,913.0 L1797.0,913.5 L1798.5,913.9 L1800.0,914.4 L1801.5,914.9 L1803.0,915.4 L1804.5,915.9 L1806.0,916.3 L1807.5,916.8 L1809.0,917.3 L1810.5,917.7 L1812.0,918.2 L1813.5,918.7 L1815.0,919.1 L1816.5,919.6 L1818.0,920.1 L1819.5,920.5 L1821.0,921.0 L1822.5,921.4 L1824.0,921.9 L1825.5,922.3 L1827.0,922.8 L1828.5,923.2 L1830.0,923.7 L1831.5,924.1 L1833.0,924.5 L1834.5,925.0 L1836.0,925.4 L1837.5,925.8 L1839.0,926.3 L1840.5,926.7 L1842.0,927.1 L1843.5,927.6 L1845.0,928.0 L1846.5,928.4 L1848.0,928.8 L1849.5,929.2 L1851.0,929.6 L1852.5,930.1 L1854.0,930.5 L1855.5,930.9 L1857.0,931.3 L1858.5,931.7 L1860.0,932.1 L1861.5,932.5 L1863.0,932.9 L1864.5,933.3 L1866.0,933.7 L1867.5,934.1 L1869.0,934.5 L1870.5,934.8 L1872.0,935.2 L1873.5,935.6 L1875.0,936.0 L1876.5,936.4 L1878.0,936.7 L1879.5,937.1 L1881.0,937.5 L1882.5,937.8 L1884.0,938.2 L1885.5,938.6 L1887.0,938.9 L1887.3,939.0" stroke="#0000ff" stroke-linecap="square"/>
<path d="M188.8,1078.4 L190.3,1078.4 L191.8,1078.4 L193.3,1078.4 L194.8,1078.4 L196.3,1078.4 L197.8,1078.4 L199.3,1078.4 L200.8,1078.4 L202.3,1078.4 L203.8,1078.4 L205.3,1078.4 L206.8,1078.4 L208.3,1078.4 L209.8,1078.4 L211.3,1078.4 L212.8,1078.4 L214.3,1078.4 L215.8,1078.4 L217.3,1078.4 L218.8,1078.4 L220.3,1078.4 L221.8,1078.4 L223.3,1078.4 L224.8,1078.4 L226.3,1078.4 L227.8,1078.4 L229.3,1078.4 L230.8,1078.4 L232.3,1078.4 L233.8,1078.4 L235.3,1078.4 L236.8,1078.4 L238.3,1078.4 L239.8,1078.4 L241.3,1078.4 L242.8,1078.4 L244.3,1078.4 L245.8,1078.4 L247.3,1078.4 L248.8,1078.4 L250.3,1078.4 L251.8,1078.4 L253.3,1078.4 L254.8,1078.4 L256.3,1078.4 L257.8,1078.4 L259.3,1078.4 L260.8,1078.4 L262.3,1078.4 L263.8,1078.4 L265.3,1078.4 L266.8,1078.4 L268.3,1078.4 L269.8,1078.4 L271.3,1078.4 L272.8,1078.4 L274.3,1078.4 L275.8,1078.4 L277.3,1078.4 L278.8,1078.4 L280.3,1078.4 L281.8,1078.4 L283.3,1078.4 L284.8,1078.4 L286.3,1078.4 L287.8,1078.4 L289.3,1078.4 L290.8,1078.4 L292.3,1078.4 L293.8,1078.4 L295.3,1078.4 L296.8,1078.4 L298.3,1078.4 L299.8,1078.4 L301.3,1078.4 L302.8,1078.4 L304.3,1078.4 L305.8,1078.4 L307.3,1078.4 L308.8,1078.4 L310.3,1078.4 L311.8,1078.4 L313.3,1078.4 L314.8,1078.4 L316.3,1078.4 L317.8,1078.4 L319.3,1078.4 L320.8,1078.4 L322.3,1078.4 L323.8,1078.4 L325.3,1078.4 L326.8,1078.4 L328.3,1078.4 L329.8,1078.4 L331.3,1078.4 L332.8,1078.4 L334.3,1078.4 L335.8,1078.4 L337.3,1078.4 L338.8,1078.4 L340.3,1078.4 L341.8,1078.4 L343.3,1078.4 L344.8,1078.4 L346.3,1078.4 L347.8,1078.4 L349.3,1078.4 L350.8,1078.4 L352.3,1078.4 L353.8,1078.4 L355.3,1078.4 L356.8,1078.4 L358.3,1078.4 L359.8,1078.4 L361.3,1078.4 L362.8,1078.4 L364.3,1078.4 L365.8,1078.4 L367.3,1078.4 L368.8,1078.4 L370.3,1078.4 L371.8,1078.4 L373.3,1078.4 L374.8,1078.4 L376.3,1078.4 L377.8,1078.4 L379.3,1078.4 L380.8,1078.4 L382.3,1078.4 L383.8,1078.4 L385.3,1078.4 L386.8,1078.4 L388.3,1078.4 L389.8,1078.4 L391.3,1078.4 L392.8,1078.4 L394.3,1078.4 L395.8,1078.4 L397.3,1078.4 L398.8,1078.4 L400.3,1078.4 L401.8,1078.4 L403.3,1078.4 L404.8,1078.4 L406.3,1078.4 L407.8,1078.4 L409.3,1078.4 L410.8,1078.4 L412.3,1078.4 L413.8,1078.4 L415.3,1078.4 L416.8,1078.4 L418.3,1078.4 L419.8,1078.4 L421.3,1078.4 L422.8,1078.4 L424.3,1078.4 L425.8,1078.4 L427.3,1078.4 L428.8,1078.4 L430.3,1078.4 L431.8,1078.4 L433.3,1078.4 L434.8,1078.4 L436.3,1078.4 L437.8,1078.4 L439.3,1078.4 L440.8,1078.4 L442.3,1078.4 L443.8,1078.4 L445.3,1078.4 L446.8,1078.4 L448.3,1078.4 L449.8,1078.4 L451.3,1078.4 L452.8,1078.4 L454.3,1078.4 L455.8,1078.4 L457.3,1078.4 L458.8,1078.4 L460.3,1078.4 L461.8,1078.4 L463.3,1078.4 L464.8,1078.4 L466.3,1078.4 L467.8,1078.4 L469.3,1078.4 L470.8,1078.4 L472.3,1078.4 L473.8,1078.4 L475.3,1078.4 L476.8,1078.4 L478.3,1078.4 L479.8,1078.4 L481.3,1078.4 L482.8,1078.4 L484.3,1078.4 L485.8,1078.4 L487.3,1078.4 L488.8,1078.4 L490.3,1078.4 L491.8,1078.4 L493.3,1078.4 L494.8,1078.4 L496.3,1078.4 L497.8,1078.4 L499.3,1078.4 L500.8,1078.4 L502.3,1078.4 L503.8,1078.4 L505.3,1078.4 L506.8,1078.4 L508.3,1078.4 L509.8,1078.4 L511.3,1078.4 L512.8,1078.4 L514.3,1078.4 L515.8,1078.4 L517.3,1078.4 L518.8,1078.4 L520.3,1078.4 L521.8,1078.4 L523.3,1078.4 L524.8,1078.4 L526.3,1078.4 L527.8,1078.4 L529.3,1078.4 L530.8,1078.4 L532.3,1078.4 L533.8,1078.4 L535.3,1078.4 L536.8,1078.4 L538.3,1078.4 L539.8,1078.4 L541.3,1078.4 L542.8,1078.4 L544.3,1078.4 L545.8,1078.4 L547.3,1078.4 L548.8,1078.4 L550.3,1078.4 L551.8,1078.4 L553.3,1078.4 L554.8,1078.4 L556.3,1078.4 L557.8,1078.4 L559.3,1078.4 L560.8,1078.4 L562.3,1078.4 L563.8,1078.4 L565.3,1078.4 L566.8,1078.4 L568.3,1078.4 L569.8,1078.4 L571.3,1078.4 L572.8,1078.4 L574.3,1078.4 L575.8,1078.4 L577.3,1078.4 L578.8,1078.4 L580.3,1078.4 L581.8,1078.4 L583.3,1078.4 L584.8,1078.4 L586.3,1078.4 L587.8,1078.4 L589.3,1078.4 L590.8,1078.4 L592.3,1078.4 L593.8,1078.4 L595.3,1078.4 L596.8,1078.4 L598.3,1078.4 L599.8,1078.4 L601.3,1078.4 L602.8,1078.4 L604.3,1078.4 L605.8,1078.4 L607.3,1078.4 L608.8,1078.4 L610.3,1078.4 L611.8,1078.4 L613.3,1078.4 L614.8,1078.4 L616.3,1078.4 L617.8,1078.4 L619.3,1078.4 L620.8,1078.4 L622.3,1078.4 L623.8,1078.4 L625.3,1078.4 L626.8,1078.4 L628.3,1078.4 L629.8,1078.4 L631.3,1078.4 L632.8,1078.4 L634.3,1078.4 L635.8,1078.4 L637.3,1078.4 L638.8,1078.4 L640.0,1078.4 L640.3,1078.4 L641.8,1078.4 L643.3,1078.4 L644.8,1078.4 L646.3,1078.4 L647.8,1078.4 L649.3,1078.4 L650.8,1078.4 L652.3,1078.4 L653.8,1078.4 L655.3,1078.4 L656.8,1078.4 L658.3,1078.4 L659.8,1078.4 L661.3,1078.4 L662.8,1078.4 L664.3,1078.4 L665.8,1078.4 L667.3,1078.4 L668.8,1078.4 L670.3,1078.4 L671.8,1078.3 L673.3,1078.3 L674.8,1078.3 L676.3,1078.3 L677.8,1078.3 L679.3,1078.3 L680.8,1078.3 L682.3,1078.3 L683.8,1078.3 L685.3,1078.3 L686.8,1078.3 L688.3,1078.3 L689.8,1078.3 L691.3,1078.3 L692.8,1078.2 L694.3,1078.2 L695.8,1078.2 L697.3,1078.2 L698.8,1078.2 L700.0,1078.2 L700.3,1078.2 L701.8,1078.1 L703.3,1078.1 L704.8,1078.0 L706.3,1077.9 L707.8,1077.8 L709.3,1077.6 L710.8,1077.5 L712.3,1077.3 L713.8,1077.2 L715.3,1077.0 L716.8,1076.8 L718.3,1076.5 L719.8,1076.3 L721.3,1076.1 L722.8,1075.8 L724.3,1075.5 L725.8,1075.2 L727.3,1074.9 L727.5,1074.9 L728.8,1074.6 L730.3,1074.2 L731.8,1073.8 L733.3,1073.3 L734.8,1072.8 L736.3,1072.2 L737.8,1071.6 L739.3,1071.0 L740.8,1070.3 L742.3,1069.5 L743.8,1068.8 L743.8,1068.7 L745.3,1067.9 L746.8,1066.9 L748.3,1065.9 L749.8,1064.9 L751.3,1063.8 L752.8,1062.7 L754.3,1061.6 L755.8,1060.4 L756.2,1060.1 L757.3,1059.3 L758.8,1058.2 L760.3,1057.1 L761.8,1056.0 L763.3,1054.9 L764.8,1053.8 L766.3,1052.7 L767.8,1051.5 L769.3,1050.2 L770.8,1048.9 L772.3,1047.4 L773.8,1045.8 L775.3,1044.1 L776.2,1042.9 L776.8,1042.2 L778.3,1040.1 L779.8,1037.8 L781.3,1035.5 L782.8,1033.0 L783.8,1031.4 L784.3,1030.5 L785.8,1028.0 L787.3,1025.5 L788.8,1023.0 L790.3,1020.4 L791.8,1017.8 L793.3,1015.0 L794.8,1012.1 L796.2,1009.2 L796.3,1009.1 L797.8,1005.9 L799.3,1002.6 L800.8,999.3 L802.3,995.9 L802.5,995.5 L803.8,992.6 L805.3,989.4 L806.8,986.1 L808.3,982.9 L809.8,979.6 L811.3,976.2 L812.8,972.6 L813.8,970.2 L814.3,968.8 L815.8,964.7 L817.3,960.5 L818.1,958.1 L818.8,956.0 L820.3,951.4 L821.8,946.8 L823.3,942.1 L824.8,937.5 L826.2,933.1 L826.3,933.0 L827.8,928.5 L829.3,924.1 L830.8,919.7 L831.2,918.4 L832.3,915.2 L833.8,910.5 L835.3,905.7 L836.8,900.5 L838.3,895.1 L838.8,893.5 L839.8,889.6 L841.3,884.0 L841.9,881.8 L842.8,878.5 L844.3,873.2 L845.8,868.0 L847.3,862.9 L848.8,857.8 L850.0,853.6 L850.3,852.6 L851.8,847.2 L853.3,841.7 L854.8,836.0 L856.2,830.6 L856.3,830.4 L857.8,824.9 L859.3,819.4 L860.8,814.1 L862.3,808.9 L863.8,803.8 L865.3,798.7 L866.8,793.8 L868.3,788.8 L869.8,784.0 L871.3,779.1 L872.8,774.3 L874.3,769.5 L875.7,765.1 L875.8,764.7 L877.3,760.0 L878.8,755.3 L880.3,750.6 L881.8,745.9 L883.3,741.3 L884.8,736.7 L886.3,732.2 L887.8,727.8 L888.9,724.5 L889.3,723.4 L890.8,719.0 L892.3,714.8 L893.8,710.5 L895.3,706.4 L896.8,702.2 L898.3,698.1 L898.4,697.8 L899.8,694.0 L901.3,689.9 L902.8,685.8 L904.3,681.8 L905.8,677.8 L907.3,673.9 L908.8,670.0 L910.3,666.2 L911.8,662.5 L913.3,658.9 L913.5,658.5 L914.8,655.4 L916.3,652.0 L917.8,648.7 L919.3,645.4 L920.8,642.2 L922.3,639.1 L923.8,636.1 L925.3,633.1 L926.8,630.2 L928.3,627.4 L929.8,624.6 L930.5,623.3 L931.3,621.9 L932.8,619.2 L934.3,616.6 L935.8,614.0 L937.3,611.5 L938.8,609.1 L940.3,606.6 L941.8,604.3 L943.3,601.9 L944.8,599.6 L946.3,597.4 L947.8,595.1 L949.3,592.9 L950.8,590.8 L951.3,590.1 L952.3,588.6 L953.8,586.5 L955.3,584.4 L956.8,582.3 L958.3,580.2 L959.8,578.1 L961.3,576.1 L962.8,574.1 L964.3,572.1 L965.8,570.2 L967.3,568.3 L968.8,566.5 L970.3,564.8 L971.8,563.1 L973.3,561.6 L974.8,560.1 L976.3,558.6 L976.9,558.1 L977.8,557.3 L979.3,556.1 L980.8,554.9 L982.3,553.8 L983.8,552.7 L985.3,551.7 L986.8,550.7 L987.3,550.4 L988.3,549.8 L989.8,548.8 L991.3,547.9 L992.8,547.1 L994.3,546.2 L995.8,545.3 L997.3,544.5 L998.8,543.7 L1000.3,542.9 L1001.8,542.1 L1003.3,541.4 L1004.8,540.7 L1006.3,540.0 L1007.8,539.4 L1009.3,538.7 L1010.8,538.2 L1012.3,537.6 L1013.8,537.1 L1015.3,536.6 L1016.8,536.1 L1018.3,535.7 L1019.8,535.3 L1021.3,535.0 L1022.8,534.7 L1024.3,534.5 L1025.1,534.4 L1025.8,534.4 L1027.3,534.3 L1028.8,534.2 L1030.3,534.2 L1031.8,534.2 L1033.3,534.2 L1034.8,534.2 L1036.3,534.2 L1037.8,534.2 L1039.3,534.2 L1040.8,534.2 L1042.3,534.2 L1043.8,534.2 L1045.3,534.2 L1046.8,534.3 L1048.3,534.3 L1049.7,534.4 L1049.8,534.5 L1051.3,534.6 L1052.8,534.9 L1054.3,535.2 L1055.8,535.6 L1057.3,536.1 L1058.8,536.6 L1060.3,537.1 L1061.8,537.7 L1063.3,538.2 L1064.8,538.8 L1064.9,538.8 L1066.3,539.3 L1067.8,539.8 L1069.3,540.4 L1070.8,540.9 L1072.3,541.4 L1073.8,541.9 L1075.3,542.4 L1076.8,542.9 L1078.3,543.4 L1079.8,544.0 L1081.3,544.5 L1082.8,545.1 L1084.3,545.6 L1085.8,546.2 L1087.3,546.8 L1088.8,547.4 L1090.3,548.0 L1091.3,548.5 L1091.8,548.7 L1093.3,549.3 L1094.8,550.0 L1096.3,550.7 L1097.8,551.4 L1099.3,552.1 L1100.8,552.8 L1102.3,553.6 L1103.8,554.3 L1105.3,555.1 L1106.8,555.9 L1108.3,556.7 L1109.8,557.5 L1111.3,558.3 L1112.8,559.1 L1114.3,560.0 L1115.8,560.8 L1117.3,561.6 L1118.8,562.5 L1120.3,563.3 L1121.8,564.2 L1123.3,565.0 L1124.8,565.9 L1126.3,566.7 L1127.3,567.3 L1127.8,567.6 L1129.3,568.5 L1130.8,569.3 L1132.3,570.2 L1133.8,571.1 L1135.3,572.0 L1136.8,572.9 L1138.3,573.8 L1139.8,574.7 L1141.3,575.6 L1142.8,576.5 L1144.3,577.4 L1145.8,578.3 L1147.3,579.3 L1148.8,580.2 L1150.3,581.1 L1151.8,582.1 L1153.3,583.0 L1154.8,584.0 L1156.3,584.9 L1157.8,585.9 L1159.3,586.8 L1160.8,587.8 L1161.3,588.1 L1162.3,588.7 L1163.8,589.7 L1165.3,590.7 L1166.8,591.6 L1168.3,592.6 L1169.8,593.6 L1171.3,594.6 L1172.8,595.6 L1174.3,596.5 L1175.8,597.5 L1177.3,598.5 L1178.8,599.5 L1180.3,600.5 L1181.8,601.5 L1183.3,602.5 L1184.8,603.5 L1186.3,604.6 L1187.8,605.6 L1189.3,606.6 L1190.8,607.6 L1192.3,608.6 L1192.5,608.8 L1193.8,609.6 L1195.3,610.7 L1196.8,611.7 L1198.3,612.7 L1199.8,613.8 L1201.3,614.8 L1202.8,615.9 L1204.3,616.9 L1205.8,618.0 L1207.3,619.0 L1208.8,620.1 L1210.3,621.1 L1211.8,622.2 L1213.3,623.3 L1214.8,624.3 L1216.3,625.4 L1217.8,626.5 L1219.3,627.5 L1220.8,628.6 L1222.3,629.7 L1223.8,630.7 L1225.3,631.8 L1226.8,632.9 L1228.3,633.9 L1229.8,635.0 L1231.3,636.1 L1232.8,637.2 L1234.3,638.2 L1235.8,639.3 L1237.3,640.4 L1238.8,641.4 L1240.3,642.5 L1241.8,643.6 L1243.3,644.6 L1244.8,645.7 L1246.3,646.7 L1247.8,647.8 L1249.3,648.8 L1250.8,649.9 L1252.3,650.9 L1253.8,652.0 L1255.3,653.0 L1256.8,654.0 L1258.3,655.1 L1259.8,656.1 L1260.0,656.2 L1261.3,657.1 L1262.8,658.1 L1264.3,659.2 L1265.8,660.2 L1267.3,661.2 L1268.8,662.2 L1270.3,663.2 L1271.8,664.2 L1273.3,665.2 L1274.8,666.2 L1276.3,667.2 L1277.8,668.2 L1279.3,669.2 L1280.8,670.2 L1282.3,671.2 L1283.8,672.2 L1285.3,673.2 L1286.8,674.1 L1288.3,675.1 L1289.8,676.1 L1291.3,677.1 L1292.8,678.1 L1294.3,679.1 L1295.8,680.1 L1297.3,681.0 L1298.8,682.0 L1300.3,683.0 L1301.8,684.0 L1303.3,685.0 L1304.8,685.9 L1306.3,686.9 L1307.8,687.9 L1309.3,688.9 L1310.8,689.9 L1312.3,690.8 L1313.8,691.8 L1315.3,692.8 L1316.8,693.8 L1318.3,694.8 L1319.8,695.8 L1321.3,696.8 L1322.8,697.7 L1324.3,698.7 L1325.8,699.7 L1327.3,700.7 L1328.8,701.7 L1330.0,702.5 L1330.3,702.7 L1331.8,703.7 L1333.3,704.7 L1334.8,705.7 L1336.3,706.7 L1337.8,707.7 L1339.3,708.7 L1340.8,709.8 L1342.3,710.8 L1343.8,711.8 L1345.3,712.8 L1346.8,713.8 L1348.3,714.9 L1349.8,715.9 L1351.3,716.9 L1352.8,717.9 L1354.3,718.9 L1355.8,720.0 L1357.3,721.0 L1358.8,722.0 L1360.3,723.0 L1361.8,724.1 L1363.3,725.1 L1364.8,726.1 L1366.3,727.1 L1367.8,728.1 L1369.3,729.1 L1370.8,730.2 L1372.3,731.2 L1373.8,732.2 L1375.3,733.2 L1376.8,734.2 L1378.3,735.2 L1379.8,736.2 L1381.3,737.1 L1382.8,738.1 L1384.3,739.1 L1385.8,740.1 L1387.3,741.0 L1388.8,742.0 L1390.3,743.0 L1391.8,743.9 L1393.3,744.9 L1394.8,745.8 L1396.3,746.7 L1397.5,747.5 L1397.8,747.7 L1399.3,748.6 L1400.8,749.5 L1402.3,750.4 L1403.8,751.4 L1405.3,752.3 L1406.8,753.2 L1408.3,754.1 L1409.8,755.0 L1411.3,755.9 L1412.8,756.8 L1414.3,757.7 L1415.8,758.6 L1417.3,759.5 L1418.8,760.4 L1420.3,761.3 L1421.8,762.1 L1423.3,763.0 L1424.8,763.9 L1426.3,764.8 L1427.8,765.7 L1429.3,766.5 L1430.8,767.4 L1432.3,768.3 L1433.8,769.1 L1435.3,770.0 L1436.8,770.9 L1438.3,771.7 L1439.8,772.6 L1441.3,773.4 L1442.8,774.3 L1444.3,775.1 L1445.8,776.0 L1447.3,776.8 L1448.8,777.6 L1450.3,778.5 L1451.8,779.3 L1453.3,780.2 L1454.8,781.0 L1456.3,781.8 L1457.8,782.6 L1459.3,783.5 L1460.8,784.3 L1462.3,785.1 L1463.8,785.9 L1465.3,786.7 L1466.8,787.5 L1468.3,788.3 L1469.8,789.2 L1471.3,790.0 L1472.8,790.8 L1474.3,791.6 L1475.8,792.4 L1477.0,793.0 L1477.3,793.2 L1478.8,793.9 L1480.3,794.7 L1481.8,795.5 L1483.3,796.3 L1484.8,797.1 L1486.3,797.9 L1487.8,798.7 L1489.3,799.4 L1490.8,800.2 L1492.3,801.0 L1493.8,801.8 L1495.3,802.5 L1496.8,803.3 L1498.3,804.1 L1499.8,804.9 L1501.3,805.6 L1502.8,806.4 L1504.3,807.1 L1505.8,807.9 L1507.3,808.7 L1508.8,809.4 L1510.3,810.2 L1511.8,810.9 L1513.3,811.7 L1514.8,812.4 L1516.3,813.2 L1517.8,813.9 L1519.3,814.7 L1520.8,815.4 L1522.3,816.1 L1523.8,816.9 L1525.3,817.6 L1526.8,818.4 L1528.3,819.1 L1529.8,819.8 L1531.3,820.5 L1532.8,821.3 L1534.3,822.0 L1535.8,822.7 L1537.3,823.4 L1538.8,824.2 L1540.3,824.9 L1541.8,825.6 L1543.3,826.3 L1544.8,827.0 L1546.3,827.7 L1547.8,828.4 L1549.3,829.1 L1550.8,829.8 L1552.3,830.5 L1553.8,831.2 L1555.3,831.9 L1556.8,832.6 L1558.3,833.3 L1559.8,834.0 L1561.3,834.7 L1562.8,835.4 L1564.3,836.1 L1565.8,836.7 L1567.3,837.4 L1568.8,838.1 L1570.3,838.8 L1571.8,839.5 L1573.0,840.0 L1573.3,840.1 L1574.8,840.8 L1576.3,841.5 L1577.8,842.1 L1579.3,842.8 L1580.8,843.5 L1582.3,844.1 L1583.8,844.8 L1585.3,845.5 L1586.8,846.1 L1588.3,846.8 L1589.8,847.4 L1591.3,848.1 L1592.8,848.8 L1594.3,849.4 L1595.8,850.1 L1597.3,850.7 L1598.8,851.4 L1600.3,852.0 L1601.8,852.7 L1603.3,853.3 L1604.8,854.0 L1606.3,854.6 L1607.8,855.3 L1609.3,855.9 L1610.8,856.5 L1612.3,857.2 L1613.8,857.8 L1615.3,858.5 L1616.8,859.1 L1618.3,859.7 L1619.8,860.4 L1621.3,861.0 L1622.8,861.6 L1624.3,862.2 L1625.8,862.9 L1627.3,863.5 L1628.8,864.1 L1630.3,864.7 L1631.8,865.3 L1633.3,866.0 L1634.8,866.6 L1636.3,867.2 L1637.8,867.8 L1639.3,868.4 L1640.8,869.0 L1642.3,869.6 L1643.8,870.2 L1645.3,870.8 L1646.8,871.4 L1648.3,872.0 L1649.8,872.6 L1651.3,873.2 L1652.8,873.8 L1654.3,874.4 L1655.8,875.0 L1657.3,875.6 L1658.8,876.2 L1660.3,876.8 L1661.8,877.3 L1663.3,877.9 L1664.8,878.5 L1666.3,879.1 L1667.8,879.6 L1669.3,880.2 L1670.8,880.8 L1672.3,881.3 L1673.8,881.9 L1675.3,882.5 L1676.8,883.0 L1678.3,883.6 L1679.8,884.1 L1681.3,884.7 L1682.8,885.2 L1684.3,885.8 L1685.8,886.3 L1687.3,886.9 L1688.8,887.4 L1689.0,887.5 L1690.3,888.0 L1691.8,888.5 L1693.3,889.0 L1694.8,889.6 L1696.3,890.1 L1697.8,890.6 L1699.3,891.2 L1700.8,891.7 L1702.3,892.2 L1703.8,892.7 L1705.3,893.3 L1706.8,893.8 L1708.3,894.3 L1709.8,894.8 L1711.3,895.3 L1712.8,895.9 L1714.3,896.4 L1715.8,896.9 L1717.3,897.4 L1718.8,897.9 L1720.3,898.4 L1721.8,898.9 L1723.3,899.4 L1724.8,899.9 L1726.3,900.4 L1727.8,900.9 L1729.3,901.4 L1730.8,901.9 L1732.3,902.4 L1733.8,902.9 L1735.3,903.4 L1736.8,903.9 L1738.3,904.4 L1739.8,904.9 L1741.3,905.3 L1742.8,905.8 L1744.3,906.3 L1745.8,906.8 L1747.3,907.3 L1748.8,907.7 L1750.3,908.2 L1751.8,908.7 L1753.3,909.2 L1754.8,909.6 L1756.3,910.1 L1757.8,910.6 L1759.3,911.0 L1760.8,911.5 L1762.3,911.9 L1763.8,912.4 L1765.3,912.9 L1766.8,913.3 L1768.3,913.8 L1769.8,914.2 L1771.3,914.7 L1772.8,915.1 L1774.3,915.6 L1775.8,916.0 L1777.3,916.4 L1778.8,916.9 L1780.3,917.3 L1781.8,917.8 L1783.3,918.2 L1784.8,918.6 L1786.3,919.1 L1787.8,919.5 L1789.3,919.9 L1790.8,920.3 L1792.3,920.8 L1793.8,921.2 L1794.0,921.2 L1795.3,921.6 L1796.8,922.0 L1798.3,922.4 L1799.8,922.9 L1801.3,923.3 L1802.8,923.7 L1804.3,924.1 L1805.8,924.5 L1807.3,924.9 L1808.8,925.3 L1810.3,925.7 L1811.8,926.1 L1813.3,926.5 L1814.8,926.9 L1816.3,927.3 L1817.8,927.7 L1819.3,928.1 L1820.8,928.5 L1822.3,928.9 L1823.8,929.3 L1825.3,929.7 L1826.8,930.1 L1828.3,930.5 L1829.8,930.9 L1831.3,931.3 L1832.8,931.7 L1834.3,932.0 L1835.8,932.4 L1837.3,932.8 L1838.8,933.2 L1840.3,933.6 L1841.8,933.9 L1843.3,934.3 L1844.8,934.7 L1846.3,935.0 L1847.8,935.4 L1849.3,935.8 L1850.8,936.1 L1852.3,936.5 L1853.8,936.9 L1855.3,937.2 L1856.8,937.6 L1858.3,938.0 L1859.8,938.3 L1861.3,938.7 L1862.8,939.0 L1864.3,939.4 L1865.8,939.7 L1867.3,940.1 L1868.8,940.4 L1870.3,940.8 L1871.8,941.1 L1873.3,941.4 L1874.8,941.8 L1876.3,942.1 L1877.8,942.5 L1879.3,942.8 L1880.8,943.1 L1882.3,943.4 L1883.8,943.8 L1885.3,944.1 L1886.8,944.4 L1887.1,944.5" stroke="#ff0000" stroke-dasharray="28.43 12.29"/>
<path d="M189.0,1078.4 L190.5,1078.4 L192.0,1078.4 L193.5,1078.4 L195.0,1078.4 L196.5,1078.4 L198.0,1078.4 L199.5,1078.4 L201.0,1078.4 L202.5,1078.4 L204.0,1078.4 L205.5,1078.4 L207.0,1078.4 L208.5,1078.4 L210.0,1078.4 L211.5,1078.4 L213.0,1078.4 L214.5,1078.4 L216.0,1078.4 L217.5,1078.4 L219.0,1078.4 L220.5,1078.4 L222.0,1078.4 L223.5,1078.4 L225.0,1078.4 L226.5,1078.4 L228.0,1078.4 L229.5,1078.4 L231.0,1078.4 L232.5,1078.4 L234.0,1078.4 L235.5,1078.4 L237.0,1078.4 L238.5,1078.4 L240.0,1078.4 L241.5,1078.4 L243.0,1078.4 L244.5,1078.4 L246.0,1078.4 L247.5,1078.4 L249.0,1078.4 L250.5,1078.4 L252.0,1078.4 L253.5,1078.4 L255.0,1078.4 L256.5,1078.4 L258.0,1078.4 L259.5,1078.4 L261.0,1078.4 L262.5,1078.4 L264.0,1078.4 L265.5,1078.4 L267.0,1078.4 L268.5,1078.4 L270.0,1078.4 L271.5,1078.4 L273.0,1078.4 L274.5,1078.4 L276.0,1078.4 L277.5,1078.4 L279.0,1078.4 L280.5,1078.4 L282.0,1078.4 L283.5,1078.4 L285.0,1078.4 L286.5,1078.4 L288.0,1078.4 L289.5,1078.4 L291.0,1078.4 L292.5,1078.4 L294.0,1078.4 L295.5,1078.4 L297.0,1078.4 L298.5,1078.4 L300.0,1078.4 L301.5,1078.4 L303.0,1078.4 L304.5,1078.4 L306.0,1078.4 L307.5,1078.4 L309.0,1078.4 L310.5,1078.4 L312.0,1078.4 L313.5,1078.4 L315.0,1078.4 L316.5,1078.4 L318.0,1078.4 L319.5,1078.4 L321.0,1078.4 L322.5,1078.4 L324.0,1078.4 L325.5,1078.4 L327.0,1078.4 L328.5,1078.4 L330.0,1078.4 L331.5,1078.4 L333.0,1078.4 L334.5,1078.4 L336.0,1078.4 L337.5,1078.4 L339.0,1078.4 L340.5,1078.4 L342.0,1078.4 L343.5,1078.4 L345.0,1078.4 L346.5,1078.4 L348.0,1078.4 L349.5,1078.4 L351.0,1078.4 L352.5,1078.4 L354.0,1078.4 L355.5,1078.4 L357.0,1078.4 L358.5,1078.4 L360.0,1078.4 L361.5,1078.4 L363.0,1078.4 L364.5,1078.4 L366.0,1078.4 L367.5,1078.4 L369.0,1078.4 L370.5,1078.4 L372.0,1078.4 L373.5,1078.4 L375.0,1078.4 L376.5,1078.4 L378.0,1078.4 L379.5,1078.4 L381.0,1078.4 L382.5,1078.4 L384.0,1078.4 L385.5,1078.4 L387.0,1078.4 L388.5,1078.4 L390.0,1078.4 L391.5,1078.4 L393.0,1078.4 L394.5,1078.4 L396.0,1078.4 L397.5,1078.4 L399.0,1078.4 L400.5,1078.4 L402.0,1078.4 L403.5,1078.4 L405.0,1078.4 L406.5,1078.4 L408.0,1078.4 L409.5,1078.4 L411.0,1078.4 L412.5,1078.4 L414.0,1078.4 L415.5,1078.4 L417.0,1078.4 L418.5,1078.4 L420.0,1078.4 L421.5,1078.4 L423.0,1078.4 L424.5,1078.4 L426.0,1078.4 L427.5,1078.4 L429.0,1078.4 L430.5,1078.4 L432.0,1078.4 L433.5,1078.4 L435.0,1078.4 L436.5,1078.4 L438.0,1078.4 L439.5,1078.4 L441.0,1078.4 L442.5,1078.4 L444.0,1078.4 L445.5,1078.4 L447.0,1078.4 L448.5,1078.4 L450.0,1078.4 L451.5,1078.4 L453.0,1078.4 L454.5,1078.4 L456.0,1078.4 L457.5,1078.4 L459.0,1078.4 L460.5,1078.4 L462.0,1078.4 L463.5,1078.4 L465.0,1078.4 L466.5,1078.4 L468.0,1078.4 L469.5,1078.4 L471.0,1078.4 L472.5,1078.4 L474.0,1078.4 L475.5,1078.4 L477.0,1078.4 L478.5,1078.4 L480.0,1078.4 L481.5,1078.4 L483.0,1078.4 L484.5,1078.4 L486.0,1078.4 L487.5,1078.4 L489.0,1078.4 L490.5,1078.4 L492.0,1078.4 L493.5,1078.4 L495.0,1078.4 L496.5,1078.4 L498.0,1078.4 L499.5,1078.4 L501.0,1078.4 L502.5,1078.4 L504.0,1078.4 L505.5,1078.4 L507.0,1078.4 L508.5,1078.4 L510.0,1078.4 L511.5,1078.4 L513.0,1078.4 L514.5,1078.4 L516.0,1078.4 L517.5,1078.4 L519.0,1078.4 L520.5,1078.4 L522.0,1078.4 L523.5,1078.4 L525.0,1078.4 L526.5,1078.4 L528.0,1078.4 L529.5,1078.4 L531.0,1078.4 L532.5,1078.4 L534.0,1078.4 L535.5,1078.4 L537.0,1078.4 L538.5,1078.4 L540.0,1078.4 L541.5,1078.4 L543.0,1078.4 L544.5,1078.4 L546.0,1078.4 L547.5,1078.4 L549.0,1078.4 L550.5,1078.4 L552.0,1078.4 L553.5,1078.4 L555.0,1078.4 L556.5,1078.4 L558.0,1078.4 L559.5,1078.4 L561.0,1078.4 L562.5,1078.4 L564.0,1078.4 L565.5,1078.4 L567.0,1078.4 L568.5,1078.4 L570.0,1078.4 L571.5,1078.4 L573.0,1078.4 L574.5,1078.4 L576.0,1078.4 L577.5,1078.4 L579.0,1078.4 L580.5,1078.4 L582.0,1078.4 L583.5,1078.4 L585.0,1078.4 L586.5,1078.4 L588.0,1078.4 L589.5,1078.4 L591.0,1078.4 L592.5,1078.4 L594.0,1078.4 L595.5,1078.4 L597.0,1078.4 L598.5,1078.4 L600.0,1078.4 L601.5,1078.4 L603.0,1078.4 L604.5,1078.4 L606.0,1078.4 L607.5,1078.4 L609.0,1078.4 L610.5,1078.4 L612.0,1078.4 L613.5,1078.4 L615.0,1078.4 L616.5,1078.4 L618.0,1078.4 L619.5,1078.4 L621.0,1078.4 L622.5,1078.4 L624.0,1078.4 L625.5,1078.4 L627.0,1078.4 L628.5,1078.4 L630.0,1078.4 L631.5,1078.4 L633.0,1078.4 L634.5,1078.4 L636.0,1078.4 L637.5,1078.4 L639.0,1078.4 L640.0,1078.4 L640.5,1078.4 L642.0,1078.4 L643.5,1078.4 L645.0,1078.4 L646.5,1078.4 L648.0,1078.4 L649.5,1078.4 L651.0,1078.4 L652.5,1078.4 L654.0,1078.4 L655.5,1078.4 L657.0,1078.4 L658.5,1078.4 L660.0,1078.4 L661.5,1078.4 L663.0,1078.4 L664.5,1078.4 L666.0,1078.4 L667.5,1078.4 L669.0,1078.4 L670.5,1078.4 L672.0,1078.3 L673.5,1078.3 L675.0,1078.3 L676.5,1078.3 L678.0,1078.3 L679.5,1078.3 L681.0,1078.3 L682.5,1078.3 L684.0,1078.3 L685.5,1078.3 L687.0,1078.3 L688.5,1078.3 L690.0,1078.3 L691.5,1078.3 L693.0,1078.2 L694.5,1078.2 L696.0,1078.2 L697.5,1078.2 L699.0,1078.2 L700.0,1078.2 L700.5,1078.2 L702.0,1078.1 L703.5,1078.1 L705.0,1078.0 L706.5,1078.0 L708.0,1077.9 L709.5,1077.8 L711.0,1077.7 L712.5,1077.6 L714.0,1077.5 L715.5,1077.3 L717.0,1077.2 L718.5,1077.0 L720.0,1076.9 L721.5,1076.7 L723.0,1076.6 L724.5,1076.4 L726.0,1076.3 L726.2,1076.2 L727.5,1076.1 L729.0,1075.9 L730.5,1075.7 L732.0,1075.5 L733.5,1075.2 L735.0,1075.0 L736.5,1074.7 L738.0,1074.5 L739.5,1074.2 L741.0,1073.9 L742.5,1073.6 L744.0,1073.3 L745.5,1072.9 L747.0,1072.6 L748.5,1072.2 L750.0,1071.8 L751.5,1071.4 L753.0,1071.0 L754.5,1070.6 L756.0,1070.2 L757.5,1069.7 L758.8,1069.3 L759.0,1069.2 L760.5,1068.6 L762.0,1068.0 L763.5,1067.4 L765.0,1066.7 L766.5,1066.0 L768.0,1065.3 L769.5,1064.5 L771.0,1063.7 L772.5,1062.8 L774.0,1062.0 L775.5,1061.1 L777.0,1060.3 L777.5,1060.0 L778.5,1059.4 L780.0,1058.5 L781.5,1057.6 L783.0,1056.7 L784.5,1055.8 L786.0,1054.8 L787.5,1053.8 L789.0,1052.8 L790.5,1051.7 L792.0,1050.7 L793.5,1049.5 L795.0,1048.3 L796.2,1047.3 L796.5,1047.1 L798.0,1045.8 L799.5,1044.4 L801.0,1042.9 L802.5,1041.4 L804.0,1039.8 L805.5,1038.2 L807.0,1036.5 L808.5,1034.6 L810.0,1032.7 L811.5,1030.7 L813.0,1028.6 L814.5,1026.5 L816.0,1024.3 L817.5,1022.0 L819.0,1019.7 L820.0,1018.2 L820.5,1017.4 L822.0,1015.1 L823.5,1012.9 L825.0,1010.6 L826.5,1008.3 L828.0,1006.1 L829.5,1003.8 L831.0,1001.5 L832.5,999.2 L834.0,996.9 L835.5,994.6 L837.0,992.2 L838.5,989.8 L840.0,987.4 L841.5,984.9 L843.0,982.3 L843.8,981.0 L844.5,979.7 L846.0,977.0 L847.5,974.3 L849.0,971.5 L850.5,968.7 L852.0,965.9 L853.1,963.8 L853.5,963.1 L855.0,960.3 L856.5,957.5 L858.0,954.7 L859.5,951.9 L861.0,949.0 L861.9,947.3 L862.5,946.1 L864.0,943.1 L865.5,940.1 L867.0,937.0 L868.5,933.8 L870.0,930.7 L871.5,927.5 L873.0,924.3 L874.5,921.1 L876.0,917.9 L877.5,914.8 L879.0,911.7 L880.5,908.6 L881.2,907.1 L882.0,905.6 L883.5,902.6 L885.0,899.6 L886.5,896.6 L888.0,893.7 L889.4,891.0 L889.5,890.8 L891.0,887.8 L892.5,884.9 L894.0,881.9 L895.5,879.0 L897.0,876.0 L897.5,875.0 L898.5,873.1 L900.0,870.1 L901.5,867.2 L903.0,864.3 L904.5,861.4 L906.0,858.4 L907.5,855.5 L909.0,852.6 L910.5,849.7 L912.0,846.8 L913.5,843.9 L915.0,841.0 L916.5,838.1 L918.0,835.2 L918.8,833.7 L919.5,832.3 L921.0,829.4 L922.5,826.5 L924.0,823.6 L925.5,820.7 L926.2,819.3 L927.0,817.8 L928.5,815.0 L930.0,812.2 L931.5,809.5 L933.0,806.8 L934.5,804.2 L935.0,803.4 L936.0,801.7 L937.5,799.3 L939.0,797.0 L940.5,794.8 L942.0,792.6 L943.5,790.5 L945.0,788.4 L946.5,786.4 L948.0,784.4 L949.5,782.4 L951.0,780.4 L952.5,778.5 L954.0,776.5 L955.5,774.6 L957.0,772.6 L958.5,770.7 L960.0,768.7 L961.5,766.8 L962.5,765.5 L963.0,764.8 L964.5,762.8 L966.0,760.8 L967.5,758.9 L969.0,756.9 L970.5,755.0 L972.0,753.1 L973.0,751.8 L973.5,751.2 L975.0,749.4 L976.5,747.6 L978.0,745.8 L979.5,744.1 L981.0,742.4 L982.5,740.8 L984.0,739.2 L985.0,738.2 L985.5,737.7 L987.0,736.3 L988.5,734.9 L990.0,733.6 L991.5,732.2 L993.0,731.0 L994.5,729.7 L996.0,728.5 L997.5,727.3 L999.0,726.1 L1000.5,724.9 L1002.0,723.8 L1003.5,722.7 L1005.0,721.6 L1006.5,720.5 L1008.0,719.4 L1009.5,718.4 L1011.0,717.3 L1012.5,716.3 L1014.0,715.3 L1015.5,714.3 L1017.0,713.3 L1018.5,712.3 L1020.0,711.3 L1021.2,710.5 L1021.5,710.4 L1023.0,709.4 L1024.5,708.5 L1026.0,707.5 L1027.5,706.6 L1029.0,705.7 L1030.5,704.9 L1032.0,704.1 L1033.5,703.2 L1035.0,702.5 L1036.2,701.8 L1036.5,701.7 L1038.0,701.0 L1039.5,700.3 L1041.0,699.6 L1042.5,698.9 L1044.0,698.3 L1045.5,697.7 L1047.0,697.1 L1048.5,696.5 L1050.0,696.0 L1051.5,695.5 L1053.0,695.1 L1053.8,694.9 L1054.5,694.6 L1056.0,694.2 L1057.5,693.9 L1059.0,693.5 L1060.5,693.2 L1062.0,692.9 L1063.5,692.5 L1065.0,692.3 L1066.5,692.0 L1068.0,691.7 L1069.5,691.4 L1071.0,691.2 L1072.5,690.9 L1074.0,690.7 L1075.0,690.5 L1075.5,690.4 L1077.0,690.2 L1078.5,689.9 L1080.0,689.6 L1081.5,689.4 L1083.0,689.1 L1084.5,688.9 L1086.0,688.7 L1087.5,688.5 L1089.0,688.3 L1090.5,688.1 L1092.0,688.0 L1093.5,687.9 L1095.0,687.8 L1096.5,687.8 L1097.0,687.8 L1098.0,687.8 L1099.5,687.9 L1101.0,688.0 L1102.5,688.1 L1104.0,688.3 L1105.0,688.4 L1105.5,688.5 L1107.0,688.8 L1108.5,689.1 L1110.0,689.4 L1111.5,689.7 L1113.0,690.1 L1114.5,690.4 L1116.0,690.8 L1116.7,690.9 L1117.5,691.1 L1119.0,691.4 L1120.5,691.8 L1122.0,692.1 L1123.5,692.4 L1125.0,692.7 L1126.5,693.0 L1128.0,693.3 L1129.5,693.5 L1131.0,693.8 L1132.5,694.1 L1133.3,694.3 L1134.0,694.4 L1135.5,694.7 L1137.0,695.0 L1138.5,695.3 L1140.0,695.6 L1141.5,695.9 L1143.0,696.2 L1144.5,696.5 L1146.0,696.8 L1147.5,697.1 L1149.0,697.4 L1150.5,697.7 L1152.0,698.0 L1153.5,698.2 L1155.0,698.5 L1156.5,698.8 L1158.0,699.1 L1159.5,699.5 L1161.0,699.8 L1162.5,700.1 L1164.0,700.4 L1165.5,700.7 L1167.0,701.1 L1168.5,701.4 L1170.0,701.8 L1171.5,702.1 L1173.0,702.5 L1174.5,702.9 L1176.0,703.3 L1177.5,703.7 L1179.0,704.1 L1180.0,704.4 L1180.5,704.5 L1182.0,705.0 L1183.5,705.4 L1185.0,705.9 L1186.5,706.4 L1188.0,707.0 L1189.5,707.5 L1191.0,708.1 L1192.5,708.7 L1194.0,709.2 L1195.5,709.8 L1197.0,710.4 L1198.5,711.1 L1200.0,711.7 L1201.5,712.3 L1203.0,712.9 L1204.5,713.5 L1206.0,714.1 L1207.5,714.7 L1209.0,715.3 L1210.5,715.9 L1211.2,716.2 L1212.0,716.5 L1213.5,717.1 L1215.0,717.7 L1216.5,718.3 L1218.0,718.8 L1219.5,719.4 L1221.0,720.0 L1222.5,720.6 L1224.0,721.1 L1225.5,721.7 L1227.0,722.3 L1228.5,722.9 L1230.0,723.4 L1231.5,724.0 L1233.0,724.6 L1234.5,725.2 L1236.0,725.8 L1237.5,726.3 L1239.0,726.9 L1240.5,727.5 L1242.0,728.1 L1243.5,728.7 L1245.0,729.3 L1246.5,729.9 L1248.0,730.4 L1249.5,731.0 L1251.0,731.6 L1252.5,732.2 L1254.0,732.8 L1255.5,733.5 L1256.2,733.8 L1257.0,734.1 L1258.5,734.7 L1260.0,735.3 L1261.5,735.9 L1263.0,736.5 L1264.5,737.2 L1266.0,737.8 L1267.5,738.4 L1269.0,739.0 L1270.5,739.7 L1272.0,740.3 L1273.5,741.0 L1275.0,741.6 L1276.5,742.2 L1278.0,742.9 L1279.5,743.5 L1281.0,744.2 L1282.5,744.8 L1284.0,745.5 L1285.5,746.1 L1287.0,746.8 L1287.5,747.0 L1288.5,747.4 L1290.0,748.1 L1291.5,748.8 L1293.0,749.4 L1294.5,750.1 L1296.0,750.8 L1297.5,751.5 L1299.0,752.1 L1300.5,752.8 L1302.0,753.5 L1303.5,754.2 L1305.0,754.9 L1306.5,755.6 L1308.0,756.2 L1309.5,756.9 L1311.0,757.6 L1312.5,758.3 L1314.0,759.0 L1315.5,759.7 L1317.0,760.4 L1318.5,761.0 L1320.0,761.7 L1321.5,762.4 L1323.0,763.1 L1324.5,763.8 L1326.0,764.4 L1327.5,765.1 L1329.0,765.8 L1330.0,766.2 L1330.5,766.5 L1332.0,767.1 L1333.5,767.8 L1335.0,768.5 L1336.5,769.1 L1338.0,769.8 L1339.5,770.5 L1341.0,771.1 L1342.5,771.8 L1344.0,772.5 L1345.5,773.1 L1347.0,773.8 L1348.5,774.4 L1350.0,775.1 L1351.5,775.7 L1353.0,776.4 L1354.5,777.1 L1356.0,777.7 L1357.5,778.4 L1359.0,779.0 L1360.5,779.7 L1361.2,780.0 L1362.0,780.3 L1363.5,781.0 L1365.0,781.6 L1366.5,782.3 L1368.0,782.9 L1369.5,783.6 L1371.0,784.2 L1372.5,784.9 L1374.0,785.5 L1375.5,786.2 L1377.0,786.8 L1378.5,787.5 L1380.0,788.1 L1381.5,788.7 L1383.0,789.4 L1384.5,790.0 L1386.0,790.7 L1387.5,791.3 L1389.0,791.9 L1390.5,792.6 L1392.0,793.2 L1393.5,793.9 L1395.0,794.5 L1396.5,795.1 L1398.0,795.8 L1399.5,796.4 L1401.0,797.1 L1402.5,797.7 L1404.0,798.3 L1405.0,798.7 L1405.5,799.0 L1407.0,799.6 L1408.5,800.2 L1410.0,800.9 L1411.5,801.5 L1413.0,802.1 L1414.5,802.8 L1416.0,803.4 L1417.5,804.0 L1419.0,804.7 L1420.5,805.3 L1422.0,805.9 L1423.5,806.6 L1425.0,807.2 L1426.5,807.8 L1428.0,808.5 L1429.5,809.1 L1431.0,809.7 L1432.5,810.4 L1434.0,811.0 L1435.5,811.6 L1437.0,812.3 L1438.5,812.9 L1440.0,813.5 L1441.5,814.1 L1443.0,814.8 L1444.5,815.4 L1446.0,816.0 L1447.5,816.6 L1449.0,817.3 L1450.5,817.9 L1452.0,818.5 L1453.5,819.1 L1455.0,819.8 L1456.5,820.4 L1458.0,821.0 L1459.5,821.6 L1461.0,822.2 L1462.5,822.8 L1464.0,823.4 L1465.5,824.1 L1467.0,824.7 L1468.5,825.3 L1470.0,825.9 L1471.5,826.5 L1473.0,827.1 L1474.0,827.5 L1474.5,827.7 L1476.0,828.3 L1477.5,828.9 L1479.0,829.5 L1480.5,830.1 L1482.0,830.7 L1483.5,831.3 L1485.0,831.9 L1486.5,832.5 L1488.0,833.1 L1489.5,833.7 L1491.0,834.3 L1492.5,834.9 L1494.0,835.4 L1495.5,836.0 L1497.0,836.6 L1498.5,837.2 L1500.0,837.8 L1501.5,838.4 L1503.0,839.0 L1504.5,839.6 L1506.0,840.1 L1507.5,840.7 L1509.0,841.3 L1510.5,841.9 L1512.0,842.5 L1513.5,843.1 L1515.0,843.6 L1516.5,844.2 L1518.0,844.8 L1519.5,845.4 L1521.0,845.9 L1522.5,846.5 L1524.0,847.1 L1525.5,847.7 L1527.0,848.3 L1528.5,848.8 L1530.0,849.4 L1531.5,850.0 L1533.0,850.5 L1534.5,851.1 L1536.0,851.7 L1537.5,852.3 L1539.0,852.8 L1540.5,853.4 L1542.0,854.0 L1543.5,854.5 L1545.0,855.1 L1546.5,855.7 L1548.0,856.2 L1549.5,856.8 L1551.0,857.4 L1552.5,857.9 L1554.0,858.5 L1555.5,859.1 L1557.0,859.6 L1558.5,860.2 L1560.0,860.8 L1561.5,861.3 L1562.0,861.5 L1563.0,861.9 L1564.5,862.4 L1566.0,863.0 L1567.5,863.6 L1569.0,864.1 L1570.5,864.7 L1572.0,865.3 L1573.5,865.9 L1575.0,866.4 L1576.5,867.0 L1578.0,867.6 L1579.5,868.2 L1581.0,868.7 L1582.5,869.3 L1584.0,869.9 L1585.5,870.5 L1587.0,871.1 L1588.5,871.6 L1590.0,872.2 L1591.5,872.8 L1593.0,873.4 L1594.5,874.0 L1596.0,874.6 L1597.5,875.1 L1599.0,875.7 L1600.5,876.3 L1602.0,876.9 L1603.5,877.5 L1605.0,878.1 L1606.5,878.6 L1608.0,879.2 L1609.5,879.8 L1611.0,880.4 L1612.5,881.0 L1614.0,881.5 L1615.5,882.1 L1617.0,882.7 L1618.5,883.3 L1620.0,883.8 L1621.5,884.4 L1623.0,885.0 L1624.5,885.5 L1626.0,886.1 L1627.5,886.7 L1629.0,887.2 L1630.5,887.8 L1632.0,888.4 L1633.5,888.9 L1635.0,889.5 L1636.5,890.0 L1638.0,890.6 L1639.5,891.1 L1641.0,891.7 L1642.5,892.2 L1644.0,892.8 L1645.5,893.3 L1647.0,893.9 L1648.5,894.4 L1650.0,894.9 L1651.5,895.5 L1653.0,896.0 L1654.5,896.5 L1656.0,897.0 L1657.5,897.5 L1659.0,898.0 L1660.5,898.6 L1662.0,899.1 L1663.5,899.6 L1665.0,900.1 L1666.5,900.6 L1668.0,901.1 L1669.5,901.5 L1671.0,902.0 L1672.5,902.5 L1674.0,903.0 L1675.5,903.4 L1677.0,903.9 L1678.5,904.4 L1680.0,904.8 L1681.5,905.3 L1683.0,905.7 L1684.5,906.2 L1686.0,906.6 L1687.5,907.1 L1689.0,907.5 L1690.5,907.9 L1692.0,908.3 L1693.5,908.7 L1695.0,909.2 L1696.5,909.6 L1698.0,910.0 L1699.5,910.4 L1701.0,910.8 L1702.5,911.2 L1704.0,911.6 L1705.5,912.0 L1707.0,912.3 L1708.5,912.7 L1710.0,913.1 L1711.5,913.5 L1713.0,913.8 L1714.5,914.2 L1716.0,914.6 L1717.5,914.9 L1719.0,915.3 L1720.5,915.7 L1722.0,916.0 L1723.5,916.4 L1725.0,916.7 L1726.5,917.1 L1728.0,917.4 L1729.5,917.8 L1731.0,918.1 L1732.5,918.5 L1734.0,918.8 L1735.5,919.2 L1737.0,919.5 L1738.5,919.9 L1740.0,920.2 L1741.5,920.5 L1743.0,920.9 L1744.5,921.2 L1746.0,921.5 L1747.5,921.9 L1749.0,922.2 L1750.5,922.5 L1752.0,922.9 L1753.5,923.2 L1755.0,923.5 L1756.5,923.9 L1758.0,924.2 L1759.5,924.5 L1761.0,924.9 L1762.5,925.2 L1764.0,925.5 L1765.5,925.9 L1767.0,926.2 L1768.5,926.5 L1770.0,926.9 L1771.5,927.2 L1773.0,927.6 L1774.5,927.9 L1776.0,928.2 L1777.5,928.6 L1779.0,928.9 L1780.5,929.3 L1782.0,929.6 L1783.5,930.0 L1785.0,930.3 L1786.5,930.7 L1788.0,931.0 L1789.0,931.3 L1789.5,931.4 L1791.0,931.7 L1792.5,932.1 L1794.0,932.4 L1795.5,932.8 L1797.0,933.1 L1798.5,933.5 L1800.0,933.9 L1801.5,934.2 L1803.0,934.6 L1804.5,934.9 L1806.0,935.3 L1807.5,935.6 L1809.0,936.0 L1810.5,936.3 L1812.0,936.7 L1813.5,937.1 L1815.0,937.4 L1816.5,937.8 L1818.0,938.1 L1819.5,938.5 L1821.0,938.8 L1822.5,939.2 L1824.0,939.5 L1825.5,939.9 L1827.0,940.2 L1828.5,940.6 L1830.0,941.0 L1831.5,941.3 L1833.0,941.7 L1834.5,942.0 L1836.0,942.4 L1837.5,942.7 L1839.0,943.1 L1840.5,943.4 L1842.0,943.8 L1843.5,944.2 L1845.0,944.5 L1846.5,944.9 L1848.0,945.2 L1849.5,945.6 L1851.0,945.9 L1852.5,946.3 L1854.0,946.6 L1855.5,947.0 L1857.0,947.3 L1858.5,947.7 L1860.0,948.1 L1861.5,948.4 L1863.0,948.8 L1864.5,949.1 L1866.0,949.5 L1867.5,949.8 L1869.0,950.2 L1870.5,950.5 L1872.0,950.9 L1873.5,951.2 L1875.0,951.6 L1876.5,952.0 L1878.0,952.3 L1879.5,952.7 L1881.0,953.0 L1882.5,953.4 L1884.0,953.7 L1885.5,954.1 L1887.0,954.4 L1887.3,954.5" stroke="#008000" stroke-dasharray="49.17 12.29 7.68 12.29"/>
</g></g>
<rect x="189.0" y="41.2" width="1715.6" height="1114.0" fill="none" stroke="#222222" stroke-width="2.5"/>
<g stroke="#222222" stroke-width="2.5">
<line x1="189.0" y1="1155.2" x2="189.0" y2="1164.7"/>
<line x1="403.8" y1="1155.2" x2="403.8" y2="1164.7"/>
<line x1="618.9" y1="1155.2" x2="618.9" y2="1164.7"/>
<line x1="833.8" y1="1155.2" x2="833.8" y2="1164.7"/>
<line x1="1046.9" y1="1155.2" x2="1046.9" y2="1164.7"/>
<line x1="1261.2" y1="1155.2" x2="1261.2" y2="1164.7"/>
<line x1="1476.8" y1="1155.2" x2="1476.8" y2="1164.7"/>
<line x1="1688.9" y1="1155.2" x2="1688.9" y2="1164.7"/>
<line x1="1904.6" y1="1155.2" x2="1904.6" y2="1164.7"/>
<line x1="179.5" y1="1155.2" x2="189.0" y2="1155.2"/>
<line x1="179.5" y1="1014.1" x2="189.0" y2="1014.1"/>
<line x1="179.5" y1="875.8" x2="189.0" y2="875.8"/>
<line x1="179.5" y1="737.2" x2="189.0" y2="737.2"/>
<line x1="179.5" y1="596.6" x2="189.0" y2="596.6"/>
<line x1="179.5" y1="458.3" x2="189.0" y2="458.3"/>
<line x1="179.5" y1="320.2" x2="189.0" y2="320.2"/>
<line x1="179.5" y1="179.6" x2="189.0" y2="179.6"/>
<line x1="179.5" y1="41.2" x2="189.0" y2="41.2"/>
</g>
<g class="tk">
<text transform="translate(188.7,1207.2) scale(1,0.94)" text-anchor="middle">0</text>
<text transform="translate(403.5,1207.2) scale(1,0.94)" text-anchor="middle">25</text>
<text transform="translate(618.6,1207.2) scale(1,0.94)" text-anchor="middle">50</text>
<text transform="translate(833.5,1207.2) scale(1,0.94)" text-anchor="middle">75</text>
<text transform="translate(1046.6,1207.2) scale(1,0.94)" text-anchor="middle">100</text>
<text transform="translate(1260.9,1207.2) scale(1,0.94)" text-anchor="middle">125</text>
<text transform="translate(1476.5,1207.2) scale(1,0.94)" text-anchor="middle">150</text>
<text transform="translate(1688.6,1207.2) scale(1,0.94)" text-anchor="middle">175</text>
<text transform="translate(1903.0,1207.2) scale(1,0.94)" text-anchor="middle">200</text>
<text transform="translate(169.6,1171.2) scale(1,0.94)" text-anchor="end">0</text>
<text transform="translate(169.6,1030.1) scale(1,0.94)" text-anchor="end">50</text>
<text transform="translate(169.6,891.8) scale(1,0.94)" text-anchor="end">100</text>
<text transform="translate(169.6,753.2) scale(1,0.94)" text-anchor="end">150</text>
<text transform="translate(169.6,612.6) scale(1,0.94)" text-anchor="end">200</text>
<text transform="translate(169.6,474.3) scale(1,0.94)" text-anchor="end">250</text>
<text transform="translate(169.6,336.2) scale(1,0.94)" text-anchor="end">300</text>
<text transform="translate(169.6,195.6) scale(1,0.94)" text-anchor="end">350</text>
<text transform="translate(169.6,57.2) scale(1,0.94)" text-anchor="end">400</text>
</g>
<text class="lb" transform="translate(1045.2,1263.6) scale(1,0.955)" text-anchor="middle">Time (s)</text>
<text class="yl" transform="translate(60.0,600.4) rotate(-90) scale(1,0.955)" text-anchor="middle">Temperature (C)</text>
<rect x="1392.5" y="64" width="488.5" height="428" rx="9" ry="9" fill="#fff" fill-opacity="0.8" stroke="#cfcfcf" stroke-width="2.6"/>
<g fill="none" stroke-width="7.68">
<path d="M1409.9,103.0 L1502.9,103.0" stroke="#0000ff" stroke-linecap="square"/>
<path d="M1409.9,172.2 L1502.9,172.2" stroke="#ff0000" stroke-dasharray="28.43 12.29"/>
<path d="M1409.9,241.4 L1502.9,241.4" stroke="#008000" stroke-dasharray="49.17 12.29 7.68 12.29"/>
</g>
<circle cx="1456.4" cy="312.7" r="9.0" fill="#0000ff"/>
<path d="M1456.4,372.1 L1465.5,390.7 L1447.3,390.7Z" fill="#ff0000"/>
<path d="M1456.4,438.7 L1464.2,450.9 L1456.4,463.1 L1448.6,450.9Z" fill="#008000"/>
<g class="lg">
<text transform="translate(1536.8,116.3) scale(1,0.955)">Sim. 18.0 mm</text>
<text transform="translate(1536.8,185.5) scale(1,0.955)">Sim. 21.0 mm</text>
<text transform="translate(1536.8,254.7) scale(1,0.955)">Sim. 26.5 mm</text>
<text transform="translate(1536.8,323.9) scale(1,0.955)">Exp. 18.0 mm</text>
<text transform="translate(1536.8,393.1) scale(1,0.955)">Exp. 21.0 mm</text>
<text transform="translate(1536.8,462.3) scale(1,0.955)">Exp. 26.5 mm</text>
</g>
</g></svg></body></html>
